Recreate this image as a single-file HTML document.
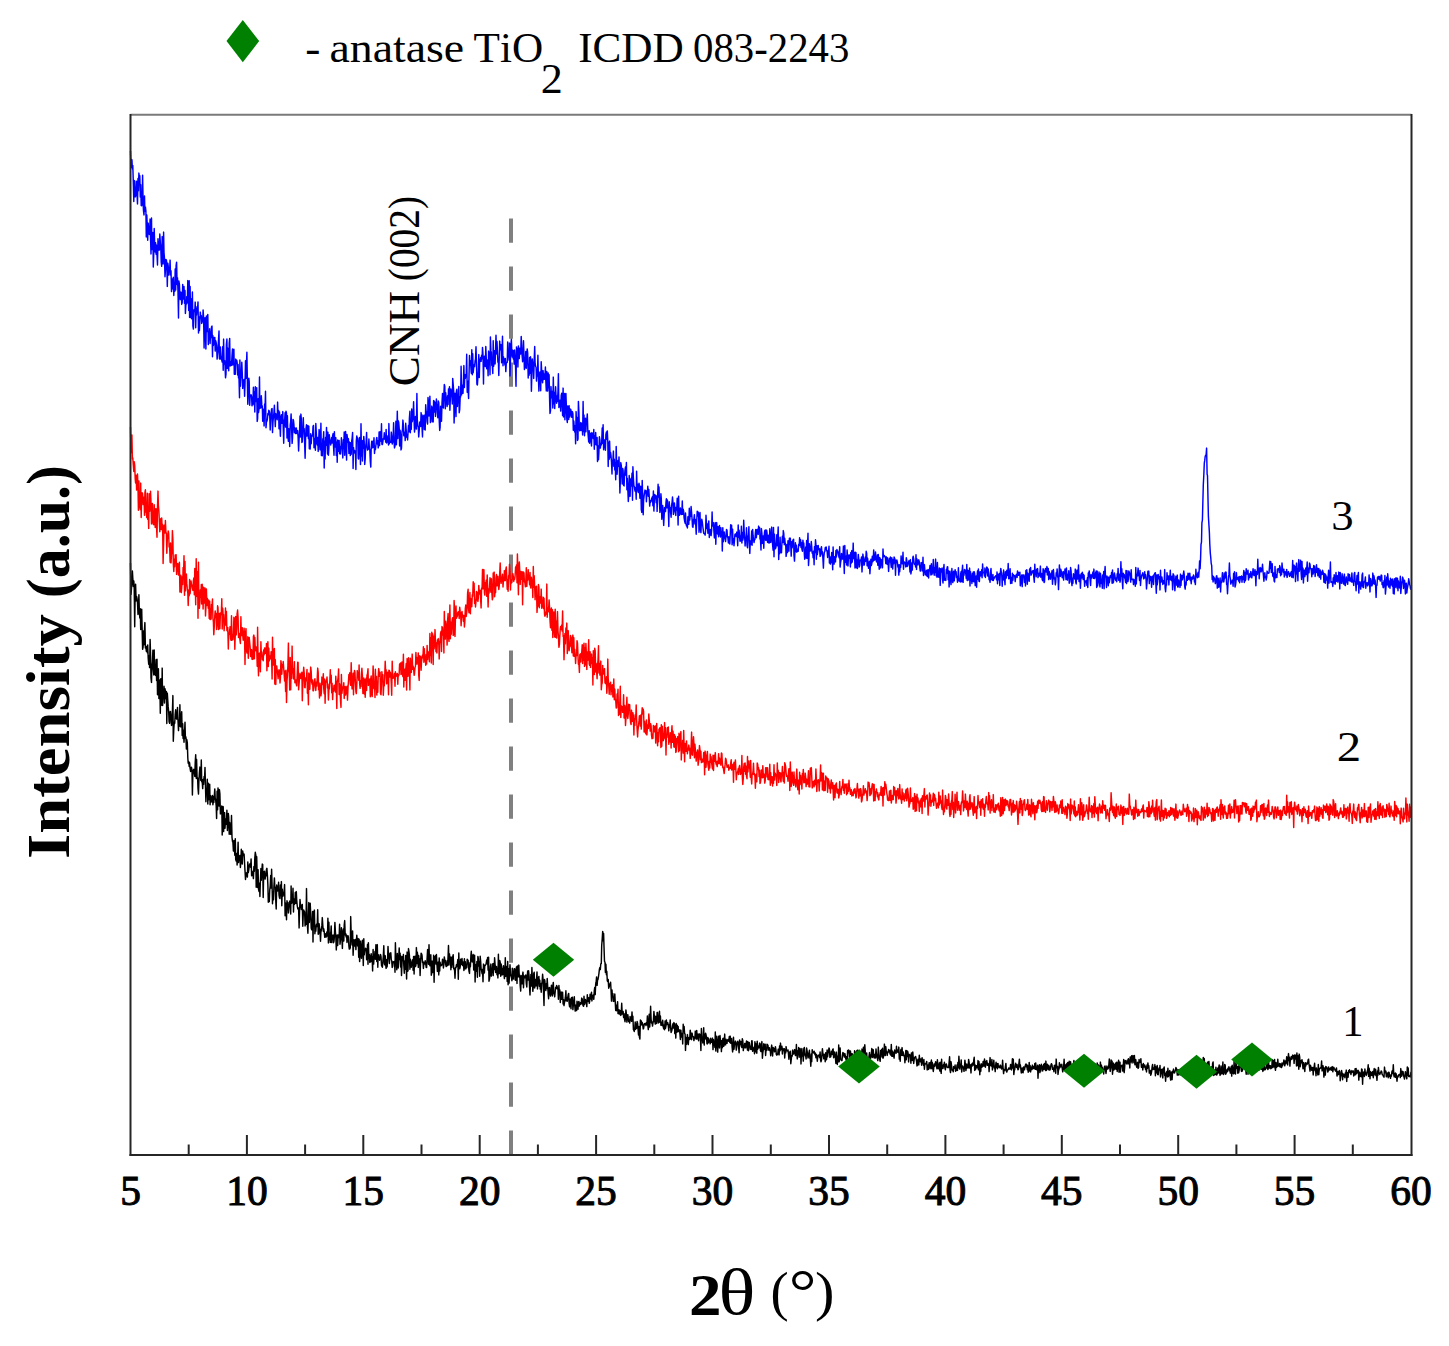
<!DOCTYPE html>
<html><head><meta charset="utf-8"><style>
html,body{margin:0;padding:0;background:#fff;}
body{width:1449px;height:1346px;overflow:hidden;}
svg{display:block;}
text{font-family:"Liberation Serif", serif;fill:#000;}
.tl{font-size:41.5px;font-weight:normal;text-anchor:middle;font-kerning:none;stroke:#000;stroke-width:1.0px;}
</style></head><body>
<svg width="1449" height="1346" viewBox="0 0 1449 1346">
<rect width="1449" height="1346" fill="#fff"/>
<polygon points="226.5,41.1 242.8,20.0 259.2,41.1 242.8,62.2" fill="#008000"/>
<line x1="511" y1="218.4" x2="511" y2="1155" stroke="#808080" stroke-width="4" stroke-dasharray="24.4 23.6"/>
<path d="M130.5,151.0 131.0,167.6 131.4,163.9 131.9,159.6 132.4,169.0 132.8,165.5 133.3,182.3 133.8,201.6 134.2,180.4 134.7,180.9 135.2,196.9 135.6,196.1 136.1,193.7 136.6,181.2 137.0,193.7 137.5,203.9 138.0,178.5 138.4,190.8 138.9,173.1 139.3,181.8 139.8,175.6 140.3,197.1 140.7,184.7 141.2,205.6 141.7,205.7 142.1,203.2 142.6,175.3 143.1,202.6 143.5,210.9 144.0,214.9 144.5,195.9 144.9,211.3 145.4,206.9 145.9,211.0 146.3,236.9 146.8,215.0 147.3,226.9 147.7,240.3 148.2,223.1 148.7,230.2 149.1,234.0 149.6,234.5 150.1,219.1 150.5,236.6 151.0,253.9 151.5,218.0 151.9,249.6 152.4,241.2 152.9,232.5 153.3,267.0 153.8,252.3 154.2,228.4 154.7,245.2 155.2,252.0 155.6,242.7 156.1,254.2 156.6,245.1 157.0,254.8 157.5,265.0 158.0,238.7 158.4,250.2 158.9,242.3 159.4,250.1 159.8,234.0 160.3,242.1 160.8,247.5 161.2,262.1 161.7,266.3 162.2,236.6 162.6,244.6 163.1,263.9 163.6,232.1 164.0,252.6 164.5,258.5 165.0,276.7 165.4,270.9 165.9,259.5 166.4,260.2 166.8,263.0 167.3,286.4 167.8,263.2 168.2,265.9 168.7,275.1 169.1,270.3 169.6,270.4 170.1,260.1 170.5,274.9 171.0,270.6 171.5,291.6 171.9,286.3 172.4,279.0 172.9,288.7 173.3,277.3 173.8,295.5 174.3,283.3 174.7,291.4 175.2,269.1 175.7,290.1 176.1,265.7 176.6,262.2 177.1,284.4 177.5,277.8 178.0,291.7 178.5,318.1 178.9,281.0 179.4,284.3 179.9,295.3 180.3,299.6 180.8,292.1 181.3,292.5 181.7,304.4 182.2,302.8 182.7,284.5 183.1,297.0 183.6,299.1 184.0,286.5 184.5,303.3 185.0,290.4 185.4,313.4 185.9,304.6 186.4,304.1 186.8,296.5 187.3,302.9 187.8,280.6 188.2,291.7 188.7,310.4 189.2,280.7 189.6,317.4 190.1,286.5 190.6,317.4 191.0,298.6 191.5,318.8 192.0,311.5 192.4,291.9 192.9,326.2 193.4,329.0 193.8,311.4 194.3,309.4 194.8,311.4 195.2,302.1 195.7,327.7 196.2,308.5 196.6,315.0 197.1,306.6 197.6,309.2 198.0,301.9 198.5,333.0 198.9,316.6 199.4,330.6 199.9,319.8 200.3,312.1 200.8,317.4 201.3,315.6 201.7,323.4 202.2,319.8 202.7,321.7 203.1,309.9 203.6,317.7 204.1,348.1 204.5,321.3 205.0,317.8 205.5,335.4 205.9,349.1 206.4,316.0 206.9,331.6 207.3,327.3 207.8,314.5 208.3,344.6 208.7,336.2 209.2,337.9 209.7,328.7 210.1,343.5 210.6,332.4 211.1,337.6 211.5,326.8 212.0,326.1 212.5,356.7 212.9,335.6 213.4,345.5 213.8,342.1 214.3,337.7 214.8,337.4 215.2,351.1 215.7,340.6 216.2,342.8 216.6,345.3 217.1,359.1 217.6,353.8 218.0,350.7 218.5,340.1 219.0,331.0 219.4,358.5 219.9,359.2 220.4,346.9 220.8,355.5 221.3,359.0 221.8,360.3 222.2,362.0 222.7,346.8 223.2,370.2 223.6,339.1 224.1,364.1 224.6,360.5 225.0,365.6 225.5,377.8 226.0,374.0 226.4,344.5 226.9,339.0 227.4,368.4 227.8,348.1 228.3,360.3 228.7,370.7 229.2,343.1 229.7,338.4 230.1,366.1 230.6,364.3 231.1,361.6 231.5,365.4 232.0,355.8 232.5,349.0 232.9,364.9 233.4,356.3 233.9,349.3 234.3,374.2 234.8,368.4 235.3,374.3 235.7,359.1 236.2,363.5 236.7,360.2 237.1,362.1 237.6,374.9 238.1,364.5 238.5,377.9 239.0,378.3 239.5,397.7 239.9,360.0 240.4,386.2 240.9,375.9 241.3,377.5 241.8,362.2 242.3,374.1 242.7,388.4 243.2,380.1 243.6,382.7 244.1,379.4 244.6,396.3 245.0,384.1 245.5,360.8 246.0,378.4 246.4,365.1 246.9,352.3 247.4,382.7 247.8,404.2 248.3,390.8 248.8,378.2 249.2,381.6 249.7,405.3 250.2,395.4 250.6,395.0 251.1,394.8 251.6,396.6 252.0,405.8 252.5,403.6 253.0,400.4 253.4,387.2 253.9,404.7 254.4,392.1 254.8,412.0 255.3,386.8 255.8,399.6 256.2,401.6 256.7,387.8 257.2,421.4 257.6,419.0 258.1,398.7 258.5,412.6 259.0,408.8 259.5,377.0 259.9,408.4 260.4,405.6 260.9,407.7 261.3,395.7 261.8,404.9 262.3,406.3 262.7,421.3 263.2,412.5 263.7,409.2 264.1,425.9 264.6,403.9 265.1,406.1 265.5,391.2 266.0,427.7 266.5,421.5 266.9,421.4 267.4,419.1 267.9,413.4 268.3,414.9 268.8,410.3 269.3,411.1 269.7,414.2 270.2,430.0 270.7,420.2 271.1,414.0 271.6,408.8 272.1,408.6 272.5,432.6 273.0,421.3 273.5,417.0 273.9,412.9 274.4,405.2 274.8,416.4 275.3,426.6 275.8,413.6 276.2,415.6 276.7,415.9 277.2,419.7 277.6,402.1 278.1,416.6 278.6,410.4 279.0,428.8 279.5,411.9 280.0,426.2 280.4,436.3 280.9,417.5 281.4,414.8 281.8,423.3 282.3,421.6 282.8,411.6 283.2,426.9 283.7,443.3 284.2,420.1 284.6,421.0 285.1,412.7 285.6,427.1 286.0,411.3 286.5,413.1 287.0,437.9 287.4,415.8 287.9,436.5 288.4,441.3 288.8,428.7 289.3,432.0 289.7,446.6 290.2,425.0 290.7,421.3 291.1,413.9 291.6,428.5 292.1,443.4 292.5,438.4 293.0,419.4 293.5,420.6 293.9,424.4 294.4,432.8 294.9,428.0 295.3,432.5 295.8,433.6 296.3,427.9 296.7,430.7 297.2,433.5 297.7,430.8 298.1,437.0 298.6,451.0 299.1,438.4 299.5,433.3 300.0,416.1 300.5,437.1 300.9,414.1 301.4,419.7 301.9,442.6 302.3,441.4 302.8,433.1 303.3,417.8 303.7,431.4 304.2,428.6 304.6,441.9 305.1,458.3 305.6,438.2 306.0,428.4 306.5,424.8 307.0,436.1 307.4,435.1 307.9,425.6 308.4,438.5 308.8,426.1 309.3,448.8 309.8,448.6 310.2,449.0 310.7,433.7 311.2,443.8 311.6,437.6 312.1,435.2 312.6,435.9 313.0,426.6 313.5,425.4 314.0,447.8 314.4,438.2 314.9,442.4 315.4,450.3 315.8,423.4 316.3,432.9 316.8,442.6 317.2,444.9 317.7,437.4 318.2,451.4 318.6,443.5 319.1,429.5 319.5,432.4 320.0,449.8 320.5,446.5 320.9,423.3 321.4,455.6 321.9,448.3 322.3,455.8 322.8,438.8 323.3,439.9 323.7,431.8 324.2,468.1 324.7,441.5 325.1,459.1 325.6,437.2 326.1,445.4 326.5,427.4 327.0,440.3 327.5,454.0 327.9,432.1 328.4,455.2 328.9,448.1 329.3,434.7 329.8,440.2 330.3,440.8 330.7,445.0 331.2,440.3 331.7,437.6 332.1,443.0 332.6,436.0 333.1,433.6 333.5,446.0 334.0,455.3 334.4,431.8 334.9,447.0 335.4,440.7 335.8,437.6 336.3,455.6 336.8,442.3 337.2,462.2 337.7,439.9 338.2,451.4 338.6,445.5 339.1,440.4 339.6,453.7 340.0,446.5 340.5,454.0 341.0,447.7 341.4,437.7 341.9,447.4 342.4,449.0 342.8,457.9 343.3,439.8 343.8,448.4 344.2,432.0 344.7,455.3 345.2,438.5 345.6,431.5 346.1,448.6 346.6,460.1 347.0,434.5 347.5,438.8 348.0,442.3 348.4,438.6 348.9,453.4 349.3,441.9 349.8,442.8 350.3,455.6 350.7,442.7 351.2,454.3 351.7,440.8 352.1,438.5 352.6,432.5 353.1,468.6 353.5,447.4 354.0,453.0 354.5,450.4 354.9,452.4 355.4,451.4 355.9,469.5 356.3,440.9 356.8,435.9 357.3,441.2 357.7,438.0 358.2,458.3 358.7,459.0 359.1,441.7 359.6,437.5 360.1,447.6 360.5,464.5 361.0,423.7 361.5,456.1 361.9,440.6 362.4,461.1 362.9,440.6 363.3,448.2 363.8,436.4 364.2,441.5 364.7,464.4 365.2,458.9 365.6,447.1 366.1,442.5 366.6,432.5 367.0,446.8 367.5,450.1 368.0,449.4 368.4,449.1 368.9,439.0 369.4,449.0 369.8,449.1 370.3,461.7 370.8,467.1 371.2,447.6 371.7,441.3 372.2,447.9 372.6,442.5 373.1,441.0 373.6,447.4 374.0,437.7 374.5,453.4 375.0,446.4 375.4,449.6 375.9,445.3 376.4,439.8 376.8,437.4 377.3,443.9 377.8,440.7 378.2,447.9 378.7,445.3 379.1,432.0 379.6,445.5 380.1,431.7 380.5,438.4 381.0,441.2 381.5,423.8 381.9,444.3 382.4,444.6 382.9,441.4 383.3,438.5 383.8,438.7 384.3,432.7 384.7,439.2 385.2,436.2 385.7,442.1 386.1,429.4 386.6,443.0 387.1,441.8 387.5,438.9 388.0,435.8 388.5,445.0 388.9,423.6 389.4,443.7 389.9,441.4 390.3,441.5 390.8,442.3 391.3,432.1 391.7,435.7 392.2,444.0 392.7,441.8 393.1,439.4 393.6,422.8 394.1,442.1 394.5,447.9 395.0,446.1 395.4,438.5 395.9,421.2 396.4,444.8 396.8,434.1 397.3,411.2 397.8,438.6 398.2,420.6 398.7,422.2 399.2,428.2 399.6,446.1 400.1,430.2 400.6,436.1 401.0,449.9 401.5,448.2 402.0,431.8 402.4,430.2 402.9,420.1 403.4,425.3 403.8,435.8 404.3,435.3 404.8,432.3 405.2,440.6 405.7,423.2 406.2,429.9 406.6,437.3 407.1,435.5 407.6,439.9 408.0,432.9 408.5,425.6 409.0,431.8 409.4,418.0 409.9,411.3 410.3,432.7 410.8,426.0 411.3,429.2 411.7,409.0 412.2,421.7 412.7,419.0 413.1,415.9 413.6,401.7 414.1,420.3 414.5,432.1 415.0,426.6 415.5,416.4 415.9,421.8 416.4,429.1 416.9,393.5 417.3,419.5 417.8,425.9 418.3,426.9 418.7,436.9 419.2,430.8 419.7,422.2 420.1,421.8 420.6,426.4 421.1,412.6 421.5,417.3 422.0,426.6 422.5,436.9 422.9,415.1 423.4,415.9 423.9,418.0 424.3,429.4 424.8,415.0 425.2,430.1 425.7,404.7 426.2,412.4 426.6,411.9 427.1,421.8 427.6,424.1 428.0,397.4 428.5,403.3 429.0,416.0 429.4,405.4 429.9,396.2 430.4,422.6 430.8,416.7 431.3,416.5 431.8,406.1 432.2,421.7 432.7,408.1 433.2,421.9 433.6,400.6 434.1,401.0 434.6,411.9 435.0,402.1 435.5,416.4 436.0,411.8 436.4,399.0 436.9,409.3 437.4,404.6 437.8,417.8 438.3,401.0 438.8,402.6 439.2,419.8 439.7,430.4 440.1,427.5 440.6,406.3 441.1,407.6 441.5,421.3 442.0,403.1 442.5,393.5 442.9,404.8 443.4,408.0 443.9,393.7 444.3,384.5 444.8,386.3 445.3,408.7 445.7,392.8 446.2,399.1 446.7,402.5 447.1,406.5 447.6,395.7 448.1,404.5 448.5,388.9 449.0,394.4 449.5,386.8 449.9,410.2 450.4,397.2 450.9,389.0 451.3,393.0 451.8,394.1 452.3,404.0 452.7,378.4 453.2,384.3 453.7,391.2 454.1,423.0 454.6,405.3 455.0,393.3 455.5,402.1 456.0,416.6 456.4,391.1 456.9,389.3 457.4,406.4 457.8,398.2 458.3,399.8 458.8,386.5 459.2,412.7 459.7,409.7 460.2,396.4 460.6,396.9 461.1,366.3 461.6,394.9 462.0,385.0 462.5,391.2 463.0,393.2 463.4,381.2 463.9,365.6 464.4,387.5 464.8,374.5 465.3,378.3 465.8,374.5 466.2,376.7 466.7,354.3 467.2,392.3 467.6,381.0 468.1,389.7 468.6,398.5 469.0,376.2 469.5,355.4 469.9,364.7 470.4,360.6 470.9,367.6 471.3,373.3 471.8,349.7 472.3,374.8 472.7,353.7 473.2,372.8 473.7,367.6 474.1,364.7 474.6,366.6 475.1,360.8 475.5,359.3 476.0,346.8 476.5,364.3 476.9,384.2 477.4,385.0 477.9,377.3 478.3,370.2 478.8,354.6 479.3,377.6 479.7,360.8 480.2,360.3 480.7,357.5 481.1,361.4 481.6,355.2 482.1,358.8 482.5,347.4 483.0,355.0 483.5,384.0 483.9,358.2 484.4,356.3 484.8,364.7 485.3,366.6 485.8,346.5 486.2,356.4 486.7,368.8 487.2,361.6 487.6,359.9 488.1,375.7 488.6,351.1 489.0,359.4 489.5,352.7 490.0,374.8 490.4,336.9 490.9,350.9 491.4,352.5 491.8,365.5 492.3,364.9 492.8,373.5 493.2,340.8 493.7,366.3 494.2,354.8 494.6,350.7 495.1,363.9 495.6,347.9 496.0,335.2 496.5,353.9 497.0,341.5 497.4,350.9 497.9,362.1 498.4,361.4 498.8,375.5 499.3,355.8 499.7,341.1 500.2,349.7 500.7,347.9 501.1,344.6 501.6,362.8 502.1,350.9 502.5,336.2 503.0,365.7 503.5,356.8 503.9,361.9 504.4,359.2 504.9,364.9 505.3,358.4 505.8,371.6 506.3,362.7 506.7,362.3 507.2,362.5 507.7,342.0 508.1,356.2 508.6,355.1 509.1,360.3 509.5,343.1 510.0,376.0 510.5,359.1 510.9,344.7 511.4,339.2 511.9,354.9 512.3,357.0 512.8,350.1 513.3,359.0 513.7,350.9 514.2,364.1 514.6,350.0 515.1,357.6 515.6,368.8 516.0,386.3 516.5,346.9 517.0,352.9 517.4,348.9 517.9,367.0 518.4,345.9 518.8,353.3 519.3,358.5 519.8,348.2 520.2,348.6 520.7,354.1 521.2,336.4 521.6,343.8 522.1,355.3 522.6,361.7 523.0,358.1 523.5,340.8 524.0,355.4 524.4,369.5 524.9,367.0 525.4,360.2 525.8,351.4 526.3,368.3 526.8,355.2 527.2,348.9 527.7,353.1 528.2,378.0 528.6,364.8 529.1,375.3 529.6,357.6 530.0,373.4 530.5,356.7 530.9,361.9 531.4,391.2 531.9,372.6 532.3,358.9 532.8,363.7 533.3,368.5 533.7,378.4 534.2,360.0 534.7,346.5 535.1,362.8 535.6,366.3 536.1,367.6 536.5,381.1 537.0,370.4 537.5,376.1 537.9,355.3 538.4,377.2 538.9,391.1 539.3,377.2 539.8,372.2 540.3,372.0 540.7,390.8 541.2,361.8 541.7,371.6 542.1,378.7 542.6,382.7 543.1,370.6 543.5,379.6 544.0,374.0 544.5,379.2 544.9,377.3 545.4,367.0 545.8,380.2 546.3,390.9 546.8,371.5 547.2,380.3 547.7,391.1 548.2,372.9 548.6,387.5 549.1,374.7 549.6,399.7 550.0,413.4 550.5,410.8 551.0,386.6 551.4,397.7 551.9,391.4 552.4,391.7 552.8,408.1 553.3,377.1 553.8,403.7 554.2,392.1 554.7,408.6 555.2,395.7 555.6,386.7 556.1,397.7 556.6,403.2 557.0,396.1 557.5,401.5 558.0,390.9 558.4,373.7 558.9,407.6 559.4,405.9 559.8,400.3 560.3,400.0 560.7,411.1 561.2,395.4 561.7,393.3 562.1,399.7 562.6,415.5 563.1,388.1 563.5,416.9 564.0,397.7 564.5,393.4 564.9,419.8 565.4,405.8 565.9,393.5 566.3,404.4 566.8,419.0 567.3,422.5 567.7,405.9 568.2,415.5 568.7,419.5 569.1,405.7 569.6,417.1 570.1,413.7 570.5,409.1 571.0,410.3 571.5,416.9 571.9,417.3 572.4,411.6 572.9,413.6 573.3,430.2 573.8,421.0 574.3,428.4 574.7,432.0 575.2,425.8 575.6,443.7 576.1,411.6 576.6,429.0 577.0,417.5 577.5,440.4 578.0,439.1 578.4,401.4 578.9,411.9 579.4,429.1 579.8,430.7 580.3,430.5 580.8,422.4 581.2,428.1 581.7,430.5 582.2,423.2 582.6,434.9 583.1,401.5 583.6,431.5 584.0,414.9 584.5,435.8 585.0,424.3 585.4,418.3 585.9,431.7 586.4,419.3 586.8,419.9 587.3,413.9 587.8,430.1 588.2,436.0 588.7,441.9 589.2,430.8 589.6,443.3 590.1,433.7 590.5,433.2 591.0,440.4 591.5,445.9 591.9,432.6 592.4,434.1 592.9,435.6 593.3,438.6 593.8,429.5 594.3,449.2 594.7,435.7 595.2,444.6 595.7,432.4 596.1,444.3 596.6,445.0 597.1,437.4 597.5,461.5 598.0,445.8 598.5,459.8 598.9,452.2 599.4,436.8 599.9,439.8 600.3,448.1 600.8,444.8 601.3,445.0 601.7,442.1 602.2,427.9 602.7,443.4 603.1,424.7 603.6,449.8 604.1,439.7 604.5,440.1 605.0,445.2 605.4,450.2 605.9,434.5 606.4,432.1 606.8,439.3 607.3,430.9 607.8,441.8 608.2,466.6 608.7,442.5 609.2,459.3 609.6,441.1 610.1,457.5 610.6,452.5 611.0,455.7 611.5,462.3 612.0,474.0 612.4,460.3 612.9,460.4 613.4,451.1 613.8,466.2 614.3,459.3 614.8,470.0 615.2,462.7 615.7,479.8 616.2,446.5 616.6,462.7 617.1,474.2 617.6,463.8 618.0,460.6 618.5,466.2 619.0,456.9 619.4,471.2 619.9,493.0 620.3,482.1 620.8,462.6 621.3,465.6 621.7,470.6 622.2,484.0 622.7,468.5 623.1,470.4 623.6,485.3 624.1,485.9 624.5,475.7 625.0,469.9 625.5,466.9 625.9,475.2 626.4,462.5 626.9,489.7 627.3,478.3 627.8,488.8 628.3,501.5 628.7,495.7 629.2,475.5 629.7,493.5 630.1,496.3 630.6,479.9 631.1,478.3 631.5,486.0 632.0,473.2 632.5,500.2 632.9,466.8 633.4,478.3 633.9,485.9 634.3,486.5 634.8,490.1 635.2,491.3 635.7,487.4 636.2,499.3 636.6,471.3 637.1,490.0 637.6,484.1 638.0,491.6 638.5,492.6 639.0,483.2 639.4,485.8 639.9,498.3 640.4,494.8 640.8,486.3 641.3,509.7 641.8,512.3 642.2,480.5 642.7,495.8 643.2,514.7 643.6,500.4 644.1,495.9 644.6,492.6 645.0,490.1 645.5,493.1 646.0,490.6 646.4,501.7 646.9,492.4 647.4,492.4 647.8,486.3 648.3,496.2 648.8,489.4 649.2,495.7 649.7,506.1 650.2,500.8 650.6,502.2 651.1,501.3 651.5,499.1 652.0,497.8 652.5,496.6 652.9,505.7 653.4,490.9 653.9,511.1 654.3,500.6 654.8,494.5 655.3,496.9 655.7,495.7 656.2,502.8 656.7,496.0 657.1,511.4 657.6,496.1 658.1,484.3 658.5,497.1 659.0,487.0 659.5,503.3 659.9,512.4 660.4,509.4 660.9,493.7 661.3,498.6 661.8,519.3 662.3,507.8 662.7,505.5 663.2,514.1 663.7,525.4 664.1,516.4 664.6,507.4 665.1,509.3 665.5,511.6 666.0,502.0 666.4,498.7 666.9,507.7 667.4,500.0 667.8,507.2 668.3,508.7 668.8,526.5 669.2,501.7 669.7,507.6 670.2,507.5 670.6,512.4 671.1,517.3 671.6,505.5 672.0,503.2 672.5,497.0 673.0,502.8 673.4,514.4 673.9,510.8 674.4,502.9 674.8,508.1 675.3,511.5 675.8,515.4 676.2,507.2 676.7,510.1 677.2,498.3 677.6,503.7 678.1,525.1 678.6,496.3 679.0,510.7 679.5,515.2 680.0,510.9 680.4,507.9 680.9,513.8 681.3,514.5 681.8,514.2 682.3,500.9 682.7,514.2 683.2,509.1 683.7,511.7 684.1,517.8 684.6,521.1 685.1,523.2 685.5,513.0 686.0,523.8 686.5,525.9 686.9,525.8 687.4,527.9 687.9,516.7 688.3,516.7 688.8,524.3 689.3,508.3 689.7,520.1 690.2,514.9 690.7,516.3 691.1,506.5 691.6,512.9 692.1,519.5 692.5,526.4 693.0,527.3 693.5,519.7 693.9,519.1 694.4,514.7 694.9,523.9 695.3,519.4 695.8,525.7 696.2,534.2 696.7,521.5 697.2,511.2 697.6,516.0 698.1,511.9 698.6,514.0 699.0,532.2 699.5,524.7 700.0,512.4 700.4,528.1 700.9,532.6 701.4,521.3 701.8,519.3 702.3,521.9 702.8,526.5 703.2,529.3 703.7,533.3 704.2,533.7 704.6,533.7 705.1,535.1 705.6,530.4 706.0,515.3 706.5,525.3 707.0,528.6 707.4,524.0 707.9,533.2 708.4,524.6 708.8,520.9 709.3,537.5 709.8,532.3 710.2,529.4 710.7,534.5 711.1,535.6 711.6,530.9 712.1,511.9 712.5,524.4 713.0,526.1 713.5,522.7 713.9,531.0 714.4,537.9 714.9,526.7 715.3,522.6 715.8,544.2 716.3,527.6 716.7,522.6 717.2,532.6 717.7,534.0 718.1,526.6 718.6,536.7 719.1,528.3 719.5,525.5 720.0,533.0 720.5,537.0 720.9,527.8 721.4,534.3 721.9,531.6 722.3,551.1 722.8,527.8 723.3,541.7 723.7,532.4 724.2,532.0 724.7,537.7 725.1,539.0 725.6,541.5 726.0,535.5 726.5,529.5 727.0,530.1 727.4,537.0 727.9,537.6 728.4,543.0 728.8,536.7 729.3,541.0 729.8,544.0 730.2,535.3 730.7,524.8 731.2,526.9 731.6,525.3 732.1,544.8 732.6,529.3 733.0,542.6 733.5,538.6 734.0,545.8 734.4,541.4 734.9,534.5 735.4,533.9 735.8,535.8 736.3,536.5 736.8,532.1 737.2,535.3 737.7,545.7 738.2,525.0 738.6,537.4 739.1,530.2 739.6,537.1 740.0,541.2 740.5,535.7 740.9,540.9 741.4,526.3 741.9,543.0 742.3,532.5 742.8,540.1 743.3,537.4 743.7,520.3 744.2,531.7 744.7,537.7 745.1,546.0 745.6,538.2 746.1,538.1 746.5,527.8 747.0,545.4 747.5,547.7 747.9,536.8 748.4,535.3 748.9,526.7 749.3,542.2 749.8,553.4 750.3,541.2 750.7,544.6 751.2,540.2 751.7,530.9 752.1,545.2 752.6,529.4 753.1,535.7 753.5,538.8 754.0,542.5 754.5,539.7 754.9,539.6 755.4,532.6 755.8,529.4 756.3,537.7 756.8,533.0 757.2,529.4 757.7,529.7 758.2,534.4 758.6,526.1 759.1,529.3 759.6,527.6 760.0,538.7 760.5,540.1 761.0,550.0 761.4,528.6 761.9,533.6 762.4,543.4 762.8,536.5 763.3,535.9 763.8,548.3 764.2,535.9 764.7,530.9 765.2,530.0 765.6,540.2 766.1,540.2 766.6,530.1 767.0,532.6 767.5,542.1 768.0,542.5 768.4,535.2 768.9,543.0 769.4,542.9 769.8,528.7 770.3,537.8 770.7,542.4 771.2,536.5 771.7,527.1 772.1,538.6 772.6,545.0 773.1,550.2 773.5,527.4 774.0,556.7 774.5,534.2 774.9,547.0 775.4,548.8 775.9,547.4 776.3,542.5 776.8,534.7 777.3,545.7 777.7,537.7 778.2,527.0 778.7,559.5 779.1,546.8 779.6,553.7 780.1,537.3 780.5,551.8 781.0,552.7 781.5,552.7 781.9,543.3 782.4,536.3 782.9,542.6 783.3,530.6 783.8,533.7 784.3,544.7 784.7,538.3 785.2,543.5 785.7,544.0 786.1,556.4 786.6,552.7 787.0,544.8 787.5,552.5 788.0,540.7 788.4,543.5 788.9,551.1 789.4,538.3 789.8,544.3 790.3,538.1 790.8,546.9 791.2,556.1 791.7,541.8 792.2,547.8 792.6,541.2 793.1,539.7 793.6,539.3 794.0,555.5 794.5,561.1 795.0,549.9 795.4,542.8 795.9,551.4 796.4,545.3 796.8,552.2 797.3,549.2 797.8,549.3 798.2,551.3 798.7,544.3 799.2,545.5 799.6,537.7 800.1,545.4 800.6,539.7 801.0,547.4 801.5,542.6 801.9,549.0 802.4,551.2 802.9,540.2 803.3,543.9 803.8,543.2 804.3,553.4 804.7,559.2 805.2,554.2 805.7,547.1 806.1,558.0 806.6,540.4 807.1,558.4 807.5,545.7 808.0,533.2 808.5,565.5 808.9,559.2 809.4,543.8 809.9,551.1 810.3,548.9 810.8,550.8 811.3,541.5 811.7,546.4 812.2,553.3 812.7,551.9 813.1,557.8 813.6,551.3 814.1,564.8 814.5,546.8 815.0,552.6 815.5,539.8 815.9,543.8 816.4,559.2 816.8,545.8 817.3,554.6 817.8,551.2 818.2,545.4 818.7,549.6 819.2,548.7 819.6,549.0 820.1,556.4 820.6,555.8 821.0,548.7 821.5,546.8 822.0,553.9 822.4,551.7 822.9,558.4 823.4,568.1 823.8,557.5 824.3,552.4 824.8,551.7 825.2,547.7 825.7,547.5 826.2,547.0 826.6,550.7 827.1,550.6 827.6,557.5 828.0,550.9 828.5,552.1 829.0,546.2 829.4,563.1 829.9,556.5 830.4,564.1 830.8,558.3 831.3,562.5 831.7,552.4 832.2,558.1 832.7,569.8 833.1,546.9 833.6,561.0 834.1,564.1 834.5,556.7 835.0,558.8 835.5,561.9 835.9,550.6 836.4,557.0 836.9,549.5 837.3,550.7 837.8,551.1 838.3,554.0 838.7,555.8 839.2,557.7 839.7,546.7 840.1,567.1 840.6,562.3 841.1,559.8 841.5,553.5 842.0,555.2 842.5,559.1 842.9,558.4 843.4,546.1 843.9,560.6 844.3,573.6 844.8,545.4 845.3,562.4 845.7,558.8 846.2,556.1 846.6,565.0 847.1,549.9 847.6,558.0 848.0,565.9 848.5,556.1 849.0,554.9 849.4,558.2 849.9,555.0 850.4,566.9 850.8,552.5 851.3,563.1 851.8,550.6 852.2,562.1 852.7,557.7 853.2,543.1 853.6,558.5 854.1,552.3 854.6,556.1 855.0,568.0 855.5,552.3 856.0,552.8 856.4,567.7 856.9,560.0 857.4,568.5 857.8,561.4 858.3,554.4 858.8,559.3 859.2,567.1 859.7,565.5 860.2,560.1 860.6,560.5 861.1,559.6 861.5,557.0 862.0,571.9 862.5,560.7 862.9,554.1 863.4,558.1 863.9,565.2 864.3,564.8 864.8,560.2 865.3,557.1 865.7,561.2 866.2,551.3 866.7,553.5 867.1,565.8 867.6,558.3 868.1,563.4 868.5,568.3 869.0,565.0 869.5,561.3 869.9,573.7 870.4,565.2 870.9,559.2 871.3,565.6 871.8,563.7 872.3,556.3 872.7,561.8 873.2,560.4 873.7,549.9 874.1,560.4 874.6,559.8 875.1,558.9 875.5,551.9 876.0,559.4 876.4,561.3 876.9,562.1 877.4,554.9 877.8,565.2 878.3,554.5 878.8,560.3 879.2,569.2 879.7,557.6 880.2,558.7 880.6,567.9 881.1,559.5 881.6,560.0 882.0,563.0 882.5,567.8 883.0,549.0 883.4,557.0 883.9,556.0 884.4,555.5 884.8,556.9 885.3,557.0 885.8,563.6 886.2,556.7 886.7,562.6 887.2,564.2 887.6,557.7 888.1,562.7 888.6,571.4 889.0,563.9 889.5,558.4 890.0,561.8 890.4,557.0 890.9,563.9 891.3,567.3 891.8,557.7 892.3,561.3 892.7,569.0 893.2,559.8 893.7,563.8 894.1,557.0 894.6,558.2 895.1,560.0 895.5,575.2 896.0,560.8 896.5,560.2 896.9,560.1 897.4,562.4 897.9,567.1 898.3,564.6 898.8,575.1 899.3,564.8 899.7,571.8 900.2,565.3 900.7,567.2 901.1,555.9 901.6,563.3 902.1,563.7 902.5,562.8 903.0,552.2 903.5,569.2 903.9,562.2 904.4,562.0 904.9,563.1 905.3,563.3 905.8,566.9 906.3,557.7 906.7,559.7 907.2,566.5 907.6,565.8 908.1,563.0 908.6,561.9 909.0,560.6 909.5,565.0 910.0,571.9 910.4,559.6 910.9,573.9 911.4,570.3 911.8,563.1 912.3,570.1 912.8,557.7 913.2,556.3 913.7,558.8 914.2,563.8 914.6,564.4 915.1,563.5 915.6,567.0 916.0,554.8 916.5,569.4 917.0,559.0 917.4,563.3 917.9,564.8 918.4,560.8 918.8,559.8 919.3,561.9 919.8,567.5 920.2,571.0 920.7,571.0 921.2,562.5 921.6,563.8 922.1,563.2 922.5,570.9 923.0,557.3 923.5,575.5 923.9,566.1 924.4,564.6 924.9,570.9 925.3,574.8 925.8,571.2 926.3,575.2 926.7,570.3 927.2,576.4 927.7,576.6 928.1,569.4 928.6,578.0 929.1,571.1 929.5,570.8 930.0,565.4 930.5,569.0 930.9,575.0 931.4,563.7 931.9,574.5 932.3,573.0 932.8,572.8 933.3,559.4 933.7,571.0 934.2,575.2 934.7,567.6 935.1,572.4 935.6,559.1 936.1,575.8 936.5,568.7 937.0,577.2 937.4,562.5 937.9,576.5 938.4,571.5 938.8,577.3 939.3,568.0 939.8,569.8 940.2,585.4 940.7,568.8 941.2,569.5 941.6,571.9 942.1,568.0 942.6,580.0 943.0,583.0 943.5,569.9 944.0,564.5 944.4,580.2 944.9,580.0 945.4,578.5 945.8,580.4 946.3,569.5 946.8,573.4 947.2,566.9 947.7,566.8 948.2,579.8 948.6,570.9 949.1,586.9 949.6,575.1 950.0,571.3 950.5,579.2 951.0,584.6 951.4,577.6 951.9,568.5 952.3,577.2 952.8,582.6 953.3,572.7 953.7,571.2 954.2,580.9 954.7,576.3 955.1,569.7 955.6,573.7 956.1,571.7 956.5,577.4 957.0,576.5 957.5,582.2 957.9,579.9 958.4,567.8 958.9,578.4 959.3,581.1 959.8,578.8 960.3,582.0 960.7,573.6 961.2,571.5 961.7,581.7 962.1,571.1 962.6,565.3 963.1,582.4 963.5,573.1 964.0,575.3 964.5,569.4 964.9,569.8 965.4,570.6 965.9,574.8 966.3,578.6 966.8,564.4 967.2,580.6 967.7,570.2 968.2,570.8 968.6,580.0 969.1,575.9 969.6,568.1 970.0,586.0 970.5,571.6 971.0,577.4 971.4,577.1 971.9,583.5 972.4,573.5 972.8,581.2 973.3,571.9 973.8,581.7 974.2,571.7 974.7,573.7 975.2,585.6 975.6,577.2 976.1,576.1 976.6,587.3 977.0,577.3 977.5,571.0 978.0,579.2 978.4,569.0 978.9,581.1 979.4,581.5 979.8,572.0 980.3,571.7 980.8,575.9 981.2,575.0 981.7,569.7 982.1,577.8 982.6,564.0 983.1,572.4 983.5,572.5 984.0,573.1 984.5,576.1 984.9,568.0 985.4,577.5 985.9,573.4 986.3,570.8 986.8,567.0 987.3,567.9 987.7,576.0 988.2,569.0 988.7,574.4 989.1,579.6 989.6,579.5 990.1,582.3 990.5,572.6 991.0,568.5 991.5,579.6 991.9,575.9 992.4,580.2 992.9,574.4 993.3,580.6 993.8,578.9 994.3,578.2 994.7,577.1 995.2,576.6 995.7,575.8 996.1,575.8 996.6,579.8 997.0,572.0 997.5,583.8 998.0,574.2 998.4,579.9 998.9,574.4 999.4,573.6 999.8,585.5 1000.3,573.4 1000.8,568.4 1001.2,571.3 1001.7,573.4 1002.2,586.3 1002.6,576.2 1003.1,580.1 1003.6,570.0 1004.0,577.1 1004.5,578.8 1005.0,584.7 1005.4,571.8 1005.9,578.6 1006.4,577.0 1006.8,570.2 1007.3,575.4 1007.8,574.2 1008.2,563.5 1008.7,578.8 1009.2,578.5 1009.6,573.4 1010.1,568.8 1010.6,583.5 1011.0,577.2 1011.5,581.2 1011.9,583.2 1012.4,573.2 1012.9,580.2 1013.3,574.7 1013.8,575.6 1014.3,575.5 1014.7,575.9 1015.2,581.6 1015.7,576.4 1016.1,575.0 1016.6,574.3 1017.1,577.4 1017.5,571.0 1018.0,573.0 1018.5,575.3 1018.9,572.6 1019.4,574.9 1019.9,572.3 1020.3,585.8 1020.8,582.3 1021.3,577.7 1021.7,575.0 1022.2,586.6 1022.7,576.9 1023.1,574.7 1023.6,576.7 1024.1,576.7 1024.5,582.4 1025.0,574.9 1025.5,585.9 1025.9,570.4 1026.4,578.5 1026.8,569.7 1027.3,584.3 1027.8,573.1 1028.2,574.5 1028.7,579.5 1029.2,581.2 1029.6,568.9 1030.1,572.8 1030.6,567.4 1031.0,575.3 1031.5,574.0 1032.0,572.7 1032.4,570.9 1032.9,572.4 1033.4,570.5 1033.8,577.1 1034.3,582.2 1034.8,564.3 1035.2,573.6 1035.7,572.0 1036.2,576.7 1036.6,569.2 1037.1,573.3 1037.6,568.6 1038.0,577.6 1038.5,574.6 1039.0,573.2 1039.4,576.0 1039.9,572.9 1040.4,566.1 1040.8,577.3 1041.3,575.8 1041.8,573.5 1042.2,579.4 1042.7,580.7 1043.1,568.8 1043.6,570.4 1044.1,582.5 1044.5,581.9 1045.0,570.7 1045.5,568.5 1045.9,571.3 1046.4,572.1 1046.9,566.5 1047.3,574.9 1047.8,568.2 1048.3,568.6 1048.7,579.6 1049.2,571.4 1049.7,574.6 1050.1,578.2 1050.6,579.2 1051.1,573.3 1051.5,575.3 1052.0,570.8 1052.5,584.2 1052.9,578.6 1053.4,569.5 1053.9,575.3 1054.3,579.0 1054.8,577.8 1055.3,584.8 1055.7,582.5 1056.2,572.7 1056.7,575.0 1057.1,568.9 1057.6,576.9 1058.0,576.4 1058.5,589.6 1059.0,576.2 1059.4,564.9 1059.9,572.3 1060.4,576.4 1060.8,569.3 1061.3,571.4 1061.8,574.0 1062.2,577.7 1062.7,575.1 1063.2,571.4 1063.6,580.1 1064.1,573.3 1064.6,573.5 1065.0,569.0 1065.5,572.1 1066.0,579.6 1066.4,567.9 1066.9,575.9 1067.4,580.1 1067.8,574.4 1068.3,577.7 1068.8,570.7 1069.2,583.3 1069.7,582.2 1070.2,577.8 1070.6,567.5 1071.1,571.2 1071.6,581.7 1072.0,585.6 1072.5,578.3 1072.9,583.2 1073.4,573.7 1073.9,575.9 1074.3,576.9 1074.8,579.1 1075.3,569.1 1075.7,581.9 1076.2,583.9 1076.7,571.2 1077.1,570.1 1077.6,579.0 1078.1,573.8 1078.5,565.0 1079.0,581.5 1079.5,578.1 1079.9,574.9 1080.4,588.3 1080.9,578.1 1081.3,573.6 1081.8,578.0 1082.3,572.2 1082.7,573.6 1083.2,579.6 1083.7,574.8 1084.1,575.4 1084.6,586.3 1085.1,582.2 1085.5,581.9 1086.0,580.6 1086.5,580.4 1086.9,585.4 1087.4,577.8 1087.8,587.5 1088.3,573.1 1088.8,576.7 1089.2,570.9 1089.7,576.2 1090.2,580.7 1090.6,585.5 1091.1,574.6 1091.6,578.0 1092.0,576.1 1092.5,574.2 1093.0,571.9 1093.4,578.3 1093.9,569.1 1094.4,578.6 1094.8,578.1 1095.3,574.6 1095.8,572.8 1096.2,570.9 1096.7,587.6 1097.2,571.1 1097.6,586.0 1098.1,581.1 1098.6,576.1 1099.0,572.0 1099.5,583.4 1100.0,586.9 1100.4,573.2 1100.9,576.5 1101.4,583.4 1101.8,579.7 1102.3,588.3 1102.7,575.1 1103.2,580.8 1103.7,571.5 1104.1,588.7 1104.6,574.1 1105.1,566.5 1105.5,577.1 1106.0,577.0 1106.5,587.5 1106.9,575.9 1107.4,577.5 1107.9,580.6 1108.3,585.7 1108.8,577.1 1109.3,582.7 1109.7,580.0 1110.2,575.8 1110.7,577.6 1111.1,577.3 1111.6,572.4 1112.1,583.3 1112.5,569.9 1113.0,583.0 1113.5,581.9 1113.9,576.4 1114.4,572.9 1114.9,575.6 1115.3,579.2 1115.8,580.5 1116.3,578.1 1116.7,581.7 1117.2,573.7 1117.6,577.7 1118.1,568.4 1118.6,580.3 1119.0,577.1 1119.5,574.2 1120.0,582.2 1120.4,579.8 1120.9,561.7 1121.4,576.3 1121.8,568.6 1122.3,581.5 1122.8,588.7 1123.2,573.2 1123.7,576.2 1124.2,574.5 1124.6,577.6 1125.1,579.0 1125.6,582.3 1126.0,570.5 1126.5,583.6 1127.0,570.8 1127.4,577.0 1127.9,581.6 1128.4,579.4 1128.8,571.0 1129.3,572.3 1129.8,573.7 1130.2,575.9 1130.7,582.1 1131.2,569.7 1131.6,578.8 1132.1,579.6 1132.5,579.5 1133.0,579.1 1133.5,584.6 1133.9,579.4 1134.4,581.4 1134.9,579.9 1135.3,586.3 1135.8,567.5 1136.3,583.9 1136.7,576.1 1137.2,576.1 1137.7,572.6 1138.1,568.1 1138.6,575.8 1139.1,574.3 1139.5,580.5 1140.0,570.5 1140.5,585.5 1140.9,579.6 1141.4,577.0 1141.9,574.8 1142.3,574.5 1142.8,572.8 1143.3,575.9 1143.7,578.8 1144.2,578.0 1144.7,571.7 1145.1,577.7 1145.6,574.6 1146.1,580.0 1146.5,588.9 1147.0,582.6 1147.4,577.9 1147.9,571.3 1148.4,572.4 1148.8,571.1 1149.3,583.6 1149.8,576.0 1150.2,580.3 1150.7,576.8 1151.2,580.5 1151.6,587.2 1152.1,576.5 1152.6,578.3 1153.0,575.9 1153.5,584.5 1154.0,574.7 1154.4,574.2 1154.9,572.9 1155.4,572.8 1155.8,582.4 1156.3,593.2 1156.8,574.9 1157.2,584.9 1157.7,581.3 1158.2,574.4 1158.6,578.6 1159.1,578.8 1159.6,576.5 1160.0,589.9 1160.5,570.2 1161.0,582.0 1161.4,581.7 1161.9,577.0 1162.4,580.8 1162.8,584.5 1163.3,580.8 1163.7,582.1 1164.2,583.5 1164.7,569.6 1165.1,587.6 1165.6,591.7 1166.1,585.0 1166.5,585.2 1167.0,572.8 1167.5,579.4 1167.9,575.8 1168.4,577.0 1168.9,584.9 1169.3,575.9 1169.8,579.3 1170.3,570.2 1170.7,579.2 1171.2,580.5 1171.7,576.4 1172.1,576.3 1172.6,589.7 1173.1,573.8 1173.5,574.6 1174.0,575.8 1174.5,586.1 1174.9,590.7 1175.4,581.6 1175.9,576.2 1176.3,577.6 1176.8,585.2 1177.3,575.1 1177.7,587.1 1178.2,586.9 1178.6,580.0 1179.1,582.9 1179.6,583.3 1180.0,587.4 1180.5,574.1 1181.0,585.4 1181.4,577.4 1181.9,575.4 1182.4,579.8 1182.8,578.1 1183.3,574.1 1183.8,571.0 1184.2,574.3 1184.7,586.5 1185.2,589.1 1185.6,582.3 1186.1,585.0 1186.6,576.3 1187.0,578.5 1187.5,580.3 1188.0,573.3 1188.4,573.7 1188.9,579.2 1189.4,577.0 1189.8,573.2 1190.3,580.6 1190.8,577.2 1191.2,583.7 1191.7,578.4 1192.2,576.9 1192.6,579.0 1193.1,577.5 1193.5,574.9 1194.0,576.2 1194.5,582.0 1194.9,581.4 1195.4,584.6 1195.9,569.2 1196.3,575.7 1196.8,575.2 1197.3,577.7 1197.7,573.8 1198.2,572.3 1198.7,577.1 1199.1,571.4 1199.6,560.9 1200.1,568.7 1200.5,560.6 1201.0,544.5 1201.5,542.1 1201.9,522.9 1202.4,520.2 1202.9,500.5 1203.3,484.8 1203.8,475.2 1204.3,463.2 1204.7,460.7 1205.2,456.4 1205.7,455.1 1206.1,455.1 1206.6,448.1 1207.1,474.2 1207.5,475.4 1208.0,498.9 1208.4,516.4 1208.9,524.6 1209.4,532.9 1209.8,544.2 1210.3,553.1 1210.8,558.0 1211.2,563.3 1211.7,565.7 1212.2,579.5 1212.6,575.5 1213.1,581.9 1213.6,576.7 1214.0,578.9 1214.5,578.1 1215.0,581.6 1215.4,583.6 1215.9,580.7 1216.4,576.1 1216.8,575.7 1217.3,588.1 1217.8,578.3 1218.2,578.3 1218.7,587.3 1219.2,585.4 1219.6,582.6 1220.1,577.9 1220.6,591.9 1221.0,582.0 1221.5,582.7 1222.0,579.0 1222.4,572.7 1222.9,573.0 1223.3,581.9 1223.8,581.8 1224.3,578.5 1224.7,573.7 1225.2,572.3 1225.7,577.9 1226.1,572.1 1226.6,584.1 1227.1,585.3 1227.5,593.8 1228.0,583.9 1228.5,576.3 1228.9,574.9 1229.4,563.0 1229.9,576.2 1230.3,578.3 1230.8,584.1 1231.3,582.2 1231.7,582.1 1232.2,580.1 1232.7,582.3 1233.1,586.3 1233.6,573.5 1234.1,576.5 1234.5,571.8 1235.0,587.0 1235.5,585.3 1235.9,582.5 1236.4,572.6 1236.9,579.5 1237.3,577.4 1237.8,579.0 1238.2,577.5 1238.7,581.1 1239.2,576.4 1239.6,582.7 1240.1,579.6 1240.6,576.8 1241.0,577.7 1241.5,576.0 1242.0,582.3 1242.4,576.8 1242.9,579.6 1243.4,576.1 1243.8,570.4 1244.3,582.5 1244.8,572.3 1245.2,580.9 1245.7,579.4 1246.2,568.7 1246.6,572.1 1247.1,574.1 1247.6,572.4 1248.0,570.3 1248.5,579.9 1249.0,574.7 1249.4,577.7 1249.9,573.4 1250.4,576.9 1250.8,571.4 1251.3,574.9 1251.8,577.8 1252.2,574.8 1252.7,572.1 1253.1,568.7 1253.6,574.9 1254.1,575.6 1254.5,572.3 1255.0,569.6 1255.5,576.0 1255.9,585.7 1256.4,571.4 1256.9,574.4 1257.3,574.4 1257.8,559.3 1258.3,572.8 1258.7,568.3 1259.2,578.8 1259.7,570.3 1260.1,567.4 1260.6,570.1 1261.1,571.9 1261.5,568.2 1262.0,570.8 1262.5,564.3 1262.9,570.1 1263.4,575.2 1263.9,581.3 1264.3,574.9 1264.8,572.8 1265.3,577.5 1265.7,576.7 1266.2,580.0 1266.7,577.1 1267.1,571.1 1267.6,573.0 1268.0,572.7 1268.5,573.3 1269.0,572.9 1269.4,567.9 1269.9,561.3 1270.4,568.6 1270.8,561.8 1271.3,572.5 1271.8,572.2 1272.2,563.7 1272.7,575.8 1273.2,576.7 1273.6,572.9 1274.1,580.9 1274.6,581.9 1275.0,566.4 1275.5,577.8 1276.0,574.9 1276.4,574.8 1276.9,577.5 1277.4,569.1 1277.8,569.8 1278.3,568.7 1278.8,569.1 1279.2,572.5 1279.7,565.6 1280.2,567.6 1280.6,575.7 1281.1,572.4 1281.6,574.6 1282.0,563.0 1282.5,568.5 1282.9,569.6 1283.4,572.5 1283.9,569.3 1284.3,576.9 1284.8,571.8 1285.3,572.1 1285.7,572.0 1286.2,575.4 1286.7,569.4 1287.1,577.4 1287.6,573.9 1288.1,572.3 1288.5,571.6 1289.0,574.0 1289.5,576.4 1289.9,576.0 1290.4,573.0 1290.9,575.5 1291.3,571.6 1291.8,577.3 1292.3,570.9 1292.7,560.5 1293.2,577.8 1293.7,571.5 1294.1,565.1 1294.6,570.0 1295.1,566.5 1295.5,581.6 1296.0,573.5 1296.5,563.1 1296.9,573.8 1297.4,569.0 1297.9,580.7 1298.3,565.7 1298.8,559.6 1299.2,571.3 1299.7,569.2 1300.2,568.9 1300.6,560.2 1301.1,573.2 1301.6,579.5 1302.0,561.4 1302.5,576.9 1303.0,568.1 1303.4,582.9 1303.9,573.2 1304.4,570.1 1304.8,576.6 1305.3,573.7 1305.8,568.0 1306.2,574.6 1306.7,568.4 1307.2,562.0 1307.6,581.3 1308.1,569.2 1308.6,567.9 1309.0,572.7 1309.5,563.1 1310.0,564.2 1310.4,568.5 1310.9,568.4 1311.4,571.4 1311.8,576.7 1312.3,568.6 1312.8,573.5 1313.2,574.0 1313.7,565.5 1314.1,572.2 1314.6,566.3 1315.1,576.5 1315.5,573.5 1316.0,571.5 1316.5,564.8 1316.9,572.3 1317.4,568.1 1317.9,575.7 1318.3,571.7 1318.8,568.4 1319.3,577.3 1319.7,576.5 1320.2,570.0 1320.7,579.1 1321.1,571.9 1321.6,572.0 1322.1,574.4 1322.5,570.2 1323.0,571.9 1323.5,573.5 1323.9,582.2 1324.4,582.2 1324.9,573.6 1325.3,583.2 1325.8,575.0 1326.3,577.3 1326.7,580.0 1327.2,577.2 1327.7,588.1 1328.1,577.4 1328.6,570.3 1329.0,583.1 1329.5,574.6 1330.0,575.3 1330.4,562.0 1330.9,582.3 1331.4,581.5 1331.8,581.6 1332.3,582.7 1332.8,586.5 1333.2,577.9 1333.7,583.0 1334.2,574.8 1334.6,576.9 1335.1,584.2 1335.6,581.0 1336.0,572.5 1336.5,581.2 1337.0,578.7 1337.4,575.7 1337.9,582.1 1338.4,577.9 1338.8,572.1 1339.3,574.4 1339.8,588.9 1340.2,572.4 1340.7,581.1 1341.2,583.1 1341.6,583.2 1342.1,573.8 1342.6,578.4 1343.0,580.7 1343.5,584.0 1343.9,576.8 1344.4,574.1 1344.9,585.0 1345.3,585.6 1345.8,581.9 1346.3,576.9 1346.7,582.0 1347.2,580.5 1347.7,584.2 1348.1,573.7 1348.6,580.6 1349.1,579.2 1349.5,574.4 1350.0,581.1 1350.5,580.2 1350.9,577.9 1351.4,582.0 1351.9,572.9 1352.3,579.7 1352.8,582.2 1353.3,581.4 1353.7,585.4 1354.2,574.0 1354.7,572.4 1355.1,581.2 1355.6,582.3 1356.1,590.7 1356.5,583.1 1357.0,575.6 1357.5,584.1 1357.9,575.8 1358.4,572.5 1358.8,593.1 1359.3,581.6 1359.8,583.6 1360.2,582.8 1360.7,589.1 1361.2,581.4 1361.6,586.1 1362.1,574.9 1362.6,573.1 1363.0,587.3 1363.5,587.6 1364.0,582.8 1364.4,581.4 1364.9,581.2 1365.4,576.9 1365.8,588.2 1366.3,583.8 1366.8,583.1 1367.2,582.5 1367.7,585.9 1368.2,583.2 1368.6,584.5 1369.1,574.9 1369.6,583.4 1370.0,591.9 1370.5,578.4 1371.0,580.4 1371.4,585.5 1371.9,585.9 1372.4,584.3 1372.8,573.1 1373.3,583.8 1373.7,575.4 1374.2,577.2 1374.7,584.2 1375.1,580.0 1375.6,585.6 1376.1,597.4 1376.5,585.5 1377.0,585.3 1377.5,577.3 1377.9,578.6 1378.4,576.5 1378.9,579.2 1379.3,576.5 1379.8,578.7 1380.3,581.0 1380.7,577.1 1381.2,575.1 1381.7,575.4 1382.1,584.6 1382.6,582.6 1383.1,587.5 1383.5,587.7 1384.0,580.8 1384.5,585.9 1384.9,575.4 1385.4,594.1 1385.9,588.7 1386.3,581.7 1386.8,577.1 1387.3,584.9 1387.7,573.7 1388.2,579.2 1388.6,587.0 1389.1,583.7 1389.6,580.9 1390.0,588.2 1390.5,578.3 1391.0,585.0 1391.4,581.2 1391.9,579.5 1392.4,586.2 1392.8,579.0 1393.3,593.5 1393.8,581.2 1394.2,594.1 1394.7,578.8 1395.2,587.4 1395.6,578.4 1396.1,577.8 1396.6,585.4 1397.0,588.0 1397.5,578.3 1398.0,590.7 1398.4,580.9 1398.9,585.6 1399.4,586.9 1399.8,588.1 1400.3,576.2 1400.8,593.4 1401.2,588.2 1401.7,583.3 1402.2,580.4 1402.6,577.1 1403.1,578.8 1403.5,588.5 1404.0,584.1 1404.5,580.2 1404.9,583.3 1405.4,593.9 1405.9,584.5 1406.3,583.3 1406.8,593.0 1407.3,588.7 1407.7,586.7 1408.2,583.5 1408.7,578.8 1409.1,580.8 1409.6,584.4 1410.1,585.7 1410.5,588.7 1411.0,589.7" fill="none" stroke="#0000ff" stroke-width="1.45" stroke-linejoin="round"/>
<path d="M130.5,427.0 131.0,452.7 131.4,443.0 131.9,435.0 132.4,458.9 132.8,458.0 133.3,464.9 133.8,471.5 134.2,461.7 134.7,465.0 135.2,478.7 135.6,482.9 136.1,475.2 136.6,490.1 137.0,482.5 137.5,474.0 138.0,487.5 138.4,510.3 138.9,481.0 139.3,503.8 139.8,507.2 140.3,509.6 140.7,483.1 141.2,517.6 141.7,496.1 142.1,492.7 142.6,493.9 143.1,504.6 143.5,499.0 144.0,497.2 144.5,515.3 144.9,492.7 145.4,489.8 145.9,512.3 146.3,512.2 146.8,517.6 147.3,493.2 147.7,519.2 148.2,512.9 148.7,528.4 149.1,493.7 149.6,511.4 150.1,506.1 150.5,491.3 151.0,502.0 151.5,523.9 151.9,505.9 152.4,503.4 152.9,522.4 153.3,524.3 153.8,524.8 154.2,504.8 154.7,514.0 155.2,527.5 155.6,508.9 156.1,508.7 156.6,527.9 157.0,537.2 157.5,506.8 158.0,491.1 158.4,505.2 158.9,511.2 159.4,522.2 159.8,531.8 160.3,523.9 160.8,518.6 161.2,529.5 161.7,517.9 162.2,529.7 162.6,524.2 163.1,563.5 163.6,543.4 164.0,525.8 164.5,525.3 165.0,533.0 165.4,520.5 165.9,532.2 166.4,533.4 166.8,553.2 167.3,539.5 167.8,536.4 168.2,531.0 168.7,533.6 169.1,547.0 169.6,546.1 170.1,562.2 170.5,543.0 171.0,562.9 171.5,554.6 171.9,552.5 172.4,530.6 172.9,539.5 173.3,563.2 173.8,571.5 174.3,559.2 174.7,566.7 175.2,554.9 175.7,556.6 176.1,554.7 176.6,574.4 177.1,568.7 177.5,563.5 178.0,563.8 178.5,575.1 178.9,573.8 179.4,562.2 179.9,592.0 180.3,577.0 180.8,575.3 181.3,592.6 181.7,588.3 182.2,576.7 182.7,584.5 183.1,567.4 183.6,573.0 184.0,555.8 184.5,595.3 185.0,561.5 185.4,590.9 185.9,574.9 186.4,574.1 186.8,583.4 187.3,588.9 187.8,592.8 188.2,605.5 188.7,590.0 189.2,595.7 189.6,579.4 190.1,593.8 190.6,587.7 191.0,580.9 191.5,584.9 192.0,585.3 192.4,588.1 192.9,590.4 193.4,580.5 193.8,578.1 194.3,594.7 194.8,568.4 195.2,580.7 195.7,604.8 196.2,558.8 196.6,581.1 197.1,596.6 197.6,571.6 198.0,618.2 198.5,562.3 198.9,606.4 199.4,608.2 199.9,601.7 200.3,590.0 200.8,597.2 201.3,584.6 201.7,604.1 202.2,584.2 202.7,594.4 203.1,609.1 203.6,587.3 204.1,596.4 204.5,603.1 205.0,587.9 205.5,615.9 205.9,608.0 206.4,589.0 206.9,605.5 207.3,598.3 207.8,600.0 208.3,608.2 208.7,600.3 209.2,618.6 209.7,601.2 210.1,619.6 210.6,609.1 211.1,619.1 211.5,604.6 212.0,605.4 212.5,599.0 212.9,617.8 213.4,622.0 213.8,634.8 214.3,626.3 214.8,615.6 215.2,611.0 215.7,617.6 216.2,613.5 216.6,629.5 217.1,624.3 217.6,605.8 218.0,607.7 218.5,629.6 219.0,618.7 219.4,613.4 219.9,628.8 220.4,612.9 220.8,614.8 221.3,613.7 221.8,598.7 222.2,629.1 222.7,608.2 223.2,615.7 223.6,614.6 224.1,630.7 224.6,623.2 225.0,624.9 225.5,608.0 226.0,625.3 226.4,611.5 226.9,630.4 227.4,631.2 227.8,627.4 228.3,649.0 228.7,633.4 229.2,634.3 229.7,629.8 230.1,626.6 230.6,638.7 231.1,640.3 231.5,615.7 232.0,640.2 232.5,634.8 232.9,639.6 233.4,634.7 233.9,617.3 234.3,618.3 234.8,649.2 235.3,633.3 235.7,616.4 236.2,634.9 236.7,628.3 237.1,613.8 237.6,610.0 238.1,617.7 238.5,637.5 239.0,634.9 239.5,633.5 239.9,639.6 240.4,643.5 240.9,616.8 241.3,635.7 241.8,631.1 242.3,627.7 242.7,635.3 243.2,640.3 243.6,639.5 244.1,628.2 244.6,638.7 245.0,664.6 245.5,634.3 246.0,628.6 246.4,649.1 246.9,653.0 247.4,652.2 247.8,636.8 248.3,658.3 248.8,640.7 249.2,637.4 249.7,642.9 250.2,648.1 250.6,656.5 251.1,655.8 251.6,649.6 252.0,659.3 252.5,651.0 253.0,659.4 253.4,636.6 253.9,635.1 254.4,658.8 254.8,637.4 255.3,648.5 255.8,650.7 256.2,647.0 256.7,647.6 257.2,666.2 257.6,627.3 258.1,661.5 258.5,675.8 259.0,653.3 259.5,653.0 259.9,660.6 260.4,671.7 260.9,641.7 261.3,654.6 261.8,652.0 262.3,659.5 262.7,655.7 263.2,660.8 263.7,650.1 264.1,654.9 264.6,647.9 265.1,648.1 265.5,653.4 266.0,653.5 266.5,643.4 266.9,670.8 267.4,654.0 267.9,641.7 268.3,666.5 268.8,648.2 269.3,660.9 269.7,655.8 270.2,658.9 270.7,658.6 271.1,651.8 271.6,658.6 272.1,679.0 272.5,637.2 273.0,660.7 273.5,665.0 273.9,650.9 274.4,648.4 274.8,684.0 275.3,659.6 275.8,684.5 276.2,669.8 276.7,665.9 277.2,670.5 277.6,672.7 278.1,678.8 278.6,672.0 279.0,669.8 279.5,670.7 280.0,683.0 280.4,678.3 280.9,660.8 281.4,664.7 281.8,674.3 282.3,664.8 282.8,667.3 283.2,661.5 283.7,668.4 284.2,675.2 284.6,680.9 285.1,671.1 285.6,691.5 286.0,670.2 286.5,702.6 287.0,680.9 287.4,675.9 287.9,666.1 288.4,643.1 288.8,669.5 289.3,672.8 289.7,690.0 290.2,657.4 290.7,689.8 291.1,668.5 291.6,678.2 292.1,646.1 292.5,672.8 293.0,668.4 293.5,678.9 293.9,673.5 294.4,661.7 294.9,682.7 295.3,680.6 295.8,680.0 296.3,684.4 296.7,685.7 297.2,675.0 297.7,662.2 298.1,662.4 298.6,689.7 299.1,683.8 299.5,678.2 300.0,673.3 300.5,678.2 300.9,678.5 301.4,675.4 301.9,672.2 302.3,700.8 302.8,682.0 303.3,674.0 303.7,667.3 304.2,673.0 304.6,687.2 305.1,687.7 305.6,678.1 306.0,680.8 306.5,677.3 307.0,669.5 307.4,693.2 307.9,684.1 308.4,704.8 308.8,673.1 309.3,679.2 309.8,689.3 310.2,678.3 310.7,667.1 311.2,671.4 311.6,681.8 312.1,684.2 312.6,679.9 313.0,690.8 313.5,690.7 314.0,684.2 314.4,681.4 314.9,678.8 315.4,686.8 315.8,690.5 316.3,682.2 316.8,686.1 317.2,678.7 317.7,668.1 318.2,672.3 318.6,689.7 319.1,686.7 319.5,698.0 320.0,683.1 320.5,691.1 320.9,695.8 321.4,692.7 321.9,677.1 322.3,681.4 322.8,684.5 323.3,673.8 323.7,688.2 324.2,693.7 324.7,679.1 325.1,703.2 325.6,681.1 326.1,682.0 326.5,681.6 327.0,677.0 327.5,687.9 327.9,684.0 328.4,700.0 328.9,689.6 329.3,688.9 329.8,681.5 330.3,669.8 330.7,682.7 331.2,675.2 331.7,692.7 332.1,683.1 332.6,699.6 333.1,690.5 333.5,691.4 334.0,685.5 334.4,685.2 334.9,689.5 335.4,692.1 335.8,676.2 336.3,687.8 336.8,708.6 337.2,682.1 337.7,680.5 338.2,676.3 338.6,668.9 339.1,694.6 339.6,683.6 340.0,685.9 340.5,701.0 341.0,707.4 341.4,674.4 341.9,693.3 342.4,689.1 342.8,686.9 343.3,687.7 343.8,682.8 344.2,698.5 344.7,689.0 345.2,686.4 345.6,695.1 346.1,691.7 346.6,687.5 347.0,686.2 347.5,700.1 348.0,688.0 348.4,682.1 348.9,674.6 349.3,679.6 349.8,672.7 350.3,683.9 350.7,685.3 351.2,662.8 351.7,682.9 352.1,688.9 352.6,684.2 353.1,673.3 353.5,694.8 354.0,675.7 354.5,670.5 354.9,671.9 355.4,682.2 355.9,691.8 356.3,693.6 356.8,684.3 357.3,670.6 357.7,675.8 358.2,673.4 358.7,680.3 359.1,664.9 359.6,683.1 360.1,688.4 360.5,680.7 361.0,686.6 361.5,673.2 361.9,668.2 362.4,676.2 362.9,693.5 363.3,692.4 363.8,678.0 364.2,694.1 364.7,679.4 365.2,697.2 365.6,687.3 366.1,678.3 366.6,690.4 367.0,675.3 367.5,673.7 368.0,668.8 368.4,685.4 368.9,682.4 369.4,682.2 369.8,679.0 370.3,696.8 370.8,678.8 371.2,675.9 371.7,694.9 372.2,696.5 372.6,686.0 373.1,665.9 373.6,676.9 374.0,688.5 374.5,682.8 375.0,697.5 375.4,669.3 375.9,689.0 376.4,676.4 376.8,695.1 377.3,681.6 377.8,692.2 378.2,676.0 378.7,668.6 379.1,671.5 379.6,676.3 380.1,672.2 380.5,693.6 381.0,694.8 381.5,684.5 381.9,671.8 382.4,680.4 382.9,674.8 383.3,695.2 383.8,684.1 384.3,685.7 384.7,677.0 385.2,661.3 385.7,673.1 386.1,669.6 386.6,683.8 387.1,681.0 387.5,672.2 388.0,676.0 388.5,694.7 388.9,670.3 389.4,670.5 389.9,677.0 390.3,672.3 390.8,674.8 391.3,683.8 391.7,695.2 392.2,661.3 392.7,677.9 393.1,678.2 393.6,676.7 394.1,675.4 394.5,673.6 395.0,686.2 395.4,671.8 395.9,674.8 396.4,675.7 396.8,676.4 397.3,673.4 397.8,684.3 398.2,674.4 398.7,675.8 399.2,673.4 399.6,664.0 400.1,665.3 400.6,662.9 401.0,674.5 401.5,665.5 402.0,661.9 402.4,674.0 402.9,676.5 403.4,654.3 403.8,687.0 404.3,670.9 404.8,669.3 405.2,680.2 405.7,670.3 406.2,663.6 406.6,690.0 407.1,658.6 407.6,667.6 408.0,676.3 408.5,657.7 409.0,666.7 409.4,671.0 409.9,689.9 410.3,658.2 410.8,666.0 411.3,672.4 411.7,666.6 412.2,654.1 412.7,669.2 413.1,666.0 413.6,668.9 414.1,675.2 414.5,673.7 415.0,667.6 415.5,666.3 415.9,652.4 416.4,661.2 416.9,664.1 417.3,657.8 417.8,662.1 418.3,653.0 418.7,675.0 419.2,680.4 419.7,655.8 420.1,662.9 420.6,656.5 421.1,670.3 421.5,662.0 422.0,658.2 422.5,654.9 422.9,657.8 423.4,646.7 423.9,662.3 424.3,648.8 424.8,660.4 425.2,656.3 425.7,665.2 426.2,654.4 426.6,664.1 427.1,645.4 427.6,659.6 428.0,651.5 428.5,655.2 429.0,653.8 429.4,661.7 429.9,633.5 430.4,655.4 430.8,637.9 431.3,663.0 431.8,632.3 432.2,640.8 432.7,633.9 433.2,664.6 433.6,636.3 434.1,648.9 434.6,642.1 435.0,629.6 435.5,642.8 436.0,651.6 436.4,643.0 436.9,653.0 437.4,640.0 437.8,642.9 438.3,638.6 438.8,644.8 439.2,658.9 439.7,643.7 440.1,641.5 440.6,633.2 441.1,631.3 441.5,651.6 442.0,626.6 442.5,627.8 442.9,634.9 443.4,631.1 443.9,652.9 444.3,611.4 444.8,636.5 445.3,639.1 445.7,621.2 446.2,625.0 446.7,634.5 447.1,645.1 447.6,620.4 448.1,613.5 448.5,636.9 449.0,641.4 449.5,623.2 449.9,604.9 450.4,638.7 450.9,622.5 451.3,634.3 451.8,622.7 452.3,619.0 452.7,617.8 453.2,635.4 453.7,634.6 454.1,600.5 454.6,611.3 455.0,636.4 455.5,615.7 456.0,605.9 456.4,618.3 456.9,616.7 457.4,616.3 457.8,612.3 458.3,613.4 458.8,611.5 459.2,618.5 459.7,607.2 460.2,611.7 460.6,612.6 461.1,625.7 461.6,616.4 462.0,611.4 462.5,617.0 463.0,615.3 463.4,621.3 463.9,615.4 464.4,627.0 464.8,622.3 465.3,608.8 465.8,604.9 466.2,616.5 466.7,612.7 467.2,606.5 467.6,593.0 468.1,589.3 468.6,609.2 469.0,612.7 469.5,612.5 469.9,592.5 470.4,613.8 470.9,598.6 471.3,606.8 471.8,606.6 472.3,594.7 472.7,596.2 473.2,581.8 473.7,592.1 474.1,583.2 474.6,603.6 475.1,599.6 475.5,607.0 476.0,601.3 476.5,591.4 476.9,600.1 477.4,592.6 477.9,601.4 478.3,598.2 478.8,585.4 479.3,594.1 479.7,594.1 480.2,590.2 480.7,600.8 481.1,607.9 481.6,588.0 482.1,587.6 482.5,569.4 483.0,588.9 483.5,585.8 483.9,569.6 484.4,592.4 484.8,595.1 485.3,582.7 485.8,585.9 486.2,580.3 486.7,596.3 487.2,575.0 487.6,586.1 488.1,607.1 488.6,589.3 489.0,593.1 489.5,587.3 490.0,577.7 490.4,588.2 490.9,592.2 491.4,578.8 491.8,591.4 492.3,599.7 492.8,597.9 493.2,573.1 493.7,578.4 494.2,572.1 494.6,596.7 495.1,592.1 495.6,592.6 496.0,577.5 496.5,574.5 497.0,585.7 497.4,585.6 497.9,576.3 498.4,585.2 498.8,589.5 499.3,585.3 499.7,573.2 500.2,562.9 500.7,579.7 501.1,583.3 501.6,579.0 502.1,577.1 502.5,574.3 503.0,587.0 503.5,579.6 503.9,580.9 504.4,570.6 504.9,573.6 505.3,580.6 505.8,569.6 506.3,567.0 506.7,575.4 507.2,589.3 507.7,579.8 508.1,591.3 508.6,576.3 509.1,574.5 509.5,564.2 510.0,571.5 510.5,589.9 510.9,579.5 511.4,583.0 511.9,582.5 512.3,575.7 512.8,573.6 513.3,576.4 513.7,581.3 514.2,579.1 514.6,579.2 515.1,575.8 515.6,567.1 516.0,571.5 516.5,565.0 517.0,582.8 517.4,553.9 517.9,571.0 518.4,594.8 518.8,569.4 519.3,561.9 519.8,572.1 520.2,584.4 520.7,571.5 521.2,579.3 521.6,575.3 522.1,571.6 522.6,604.7 523.0,577.0 523.5,572.0 524.0,573.1 524.4,581.8 524.9,582.8 525.4,586.8 525.8,581.6 526.3,567.8 526.8,586.5 527.2,579.4 527.7,580.2 528.2,569.8 528.6,578.7 529.1,577.9 529.6,584.8 530.0,572.4 530.5,586.8 530.9,588.0 531.4,577.2 531.9,582.3 532.3,580.7 532.8,597.5 533.3,566.5 533.7,587.2 534.2,575.7 534.7,587.5 535.1,599.8 535.6,586.9 536.1,594.5 536.5,586.2 537.0,612.4 537.5,603.6 537.9,606.2 538.4,584.4 538.9,587.1 539.3,607.8 539.8,596.8 540.3,596.9 540.7,603.0 541.2,589.1 541.7,608.3 542.1,602.1 542.6,606.9 543.1,597.1 543.5,608.6 544.0,598.1 544.5,614.0 544.9,616.2 545.4,615.0 545.8,612.1 546.3,613.9 546.8,584.1 547.2,617.2 547.7,607.8 548.2,611.9 548.6,609.2 549.1,599.9 549.6,608.4 550.0,620.1 550.5,627.8 551.0,609.9 551.4,608.0 551.9,630.3 552.4,609.7 552.8,637.5 553.3,619.7 553.8,612.0 554.2,629.8 554.7,637.0 555.2,609.2 555.6,637.2 556.1,621.2 556.6,638.1 557.0,621.8 557.5,611.6 558.0,631.3 558.4,635.9 558.9,647.3 559.4,644.7 559.8,636.1 560.3,628.3 560.7,626.5 561.2,629.3 561.7,625.1 562.1,631.0 562.6,611.0 563.1,636.6 563.5,635.4 564.0,659.8 564.5,644.1 564.9,633.6 565.4,643.8 565.9,628.0 566.3,634.2 566.8,623.1 567.3,653.5 567.7,646.2 568.2,630.6 568.7,641.1 569.1,650.7 569.6,647.0 570.1,646.3 570.5,635.5 571.0,637.9 571.5,644.9 571.9,652.8 572.4,637.4 572.9,635.1 573.3,656.1 573.8,637.6 574.3,656.3 574.7,649.1 575.2,655.3 575.6,663.5 576.1,654.4 576.6,655.6 577.0,640.7 577.5,643.2 578.0,655.8 578.4,664.3 578.9,663.5 579.4,672.4 579.8,654.7 580.3,654.1 580.8,661.9 581.2,653.4 581.7,653.1 582.2,644.7 582.6,663.6 583.1,645.4 583.6,660.2 584.0,643.2 584.5,666.4 585.0,647.7 585.4,665.1 585.9,643.5 586.4,654.4 586.8,669.4 587.3,651.9 587.8,660.2 588.2,655.8 588.7,639.7 589.2,663.7 589.6,665.3 590.1,651.8 590.5,667.4 591.0,655.5 591.5,654.1 591.9,663.6 592.4,657.8 592.9,685.1 593.3,650.8 593.8,672.0 594.3,674.6 594.7,648.3 595.2,651.0 595.7,672.1 596.1,663.1 596.6,671.4 597.1,678.8 597.5,665.8 598.0,660.2 598.5,645.8 598.9,672.9 599.4,663.3 599.9,675.1 600.3,675.0 600.8,661.1 601.3,689.7 601.7,684.5 602.2,683.1 602.7,665.5 603.1,673.1 603.6,672.5 604.1,674.3 604.5,668.6 605.0,683.1 605.4,681.9 605.9,683.8 606.4,676.7 606.8,693.3 607.3,684.2 607.8,659.1 608.2,678.5 608.7,684.4 609.2,694.2 609.6,683.8 610.1,685.1 610.6,682.3 611.0,694.7 611.5,685.7 612.0,685.2 612.4,684.8 612.9,696.9 613.4,688.2 613.8,679.0 614.3,699.8 614.8,689.1 615.2,699.1 615.7,700.0 616.2,708.0 616.6,707.4 617.1,694.1 617.6,698.3 618.0,689.3 618.5,715.5 619.0,705.5 619.4,714.3 619.9,700.3 620.3,686.2 620.8,717.4 621.3,705.8 621.7,706.8 622.2,706.8 622.7,712.4 623.1,712.1 623.6,694.8 624.1,718.1 624.5,705.1 625.0,706.3 625.5,725.5 625.9,719.3 626.4,709.3 626.9,697.2 627.3,714.8 627.8,718.5 628.3,713.7 628.7,704.2 629.2,708.3 629.7,704.7 630.1,717.2 630.6,722.5 631.1,724.5 631.5,710.1 632.0,718.4 632.5,721.4 632.9,712.8 633.4,716.1 633.9,735.1 634.3,719.5 634.8,725.4 635.2,714.8 635.7,719.0 636.2,704.9 636.6,719.0 637.1,729.2 637.6,736.9 638.0,729.8 638.5,725.8 639.0,720.9 639.4,715.8 639.9,719.6 640.4,726.1 640.8,715.0 641.3,729.1 641.8,713.9 642.2,707.7 642.7,714.1 643.2,709.1 643.6,711.7 644.1,732.0 644.6,721.5 645.0,725.1 645.5,732.9 646.0,733.9 646.4,720.0 646.9,734.9 647.4,727.6 647.8,724.7 648.3,728.5 648.8,714.0 649.2,719.4 649.7,725.1 650.2,731.1 650.6,723.7 651.1,725.9 651.5,734.9 652.0,738.7 652.5,734.0 652.9,738.2 653.4,725.4 653.9,726.6 654.3,731.8 654.8,727.3 655.3,726.0 655.7,743.1 656.2,729.1 656.7,723.5 657.1,735.1 657.6,745.8 658.1,732.6 658.5,741.8 659.0,729.2 659.5,729.0 659.9,727.7 660.4,732.1 660.9,747.5 661.3,724.8 661.8,746.3 662.3,726.3 662.7,732.4 663.2,740.8 663.7,739.4 664.1,737.0 664.6,722.6 665.1,738.0 665.5,727.7 666.0,755.1 666.4,734.3 666.9,737.5 667.4,727.7 667.8,732.9 668.3,727.0 668.8,744.3 669.2,735.2 669.7,741.7 670.2,732.7 670.6,734.4 671.1,748.0 671.6,731.5 672.0,725.7 672.5,742.3 673.0,731.2 673.4,736.7 673.9,747.0 674.4,734.5 674.8,747.3 675.3,736.2 675.8,752.4 676.2,751.5 676.7,738.7 677.2,740.9 677.6,736.7 678.1,744.5 678.6,751.7 679.0,733.2 679.5,750.6 680.0,734.6 680.4,738.1 680.9,731.6 681.3,759.9 681.8,745.3 682.3,746.8 682.7,740.4 683.2,753.1 683.7,730.5 684.1,746.0 684.6,761.7 685.1,743.4 685.5,746.4 686.0,751.3 686.5,740.9 686.9,747.0 687.4,753.8 687.9,748.6 688.3,750.0 688.8,745.1 689.3,749.9 689.7,748.3 690.2,758.4 690.7,753.6 691.1,747.1 691.6,732.1 692.1,754.5 692.5,755.2 693.0,743.9 693.5,736.7 693.9,743.0 694.4,757.7 694.9,744.3 695.3,748.8 695.8,753.9 696.2,761.1 696.7,752.9 697.2,752.7 697.6,750.0 698.1,765.2 698.6,761.7 699.0,754.1 699.5,745.6 700.0,750.1 700.4,759.8 700.9,751.3 701.4,762.6 701.8,759.3 702.3,759.2 702.8,762.0 703.2,761.3 703.7,752.5 704.2,756.4 704.6,774.8 705.1,751.1 705.6,756.5 706.0,767.2 706.5,759.1 707.0,754.8 707.4,751.4 707.9,764.1 708.4,767.5 708.8,770.2 709.3,761.2 709.8,768.1 710.2,754.1 710.7,762.4 711.1,756.8 711.6,762.7 712.1,766.7 712.5,768.9 713.0,755.2 713.5,770.5 713.9,758.9 714.4,755.3 714.9,761.2 715.3,752.6 715.8,762.6 716.3,764.7 716.7,761.5 717.2,766.6 717.7,761.0 718.1,763.2 718.6,753.7 719.1,763.7 719.5,757.9 720.0,760.7 720.5,763.2 720.9,765.2 721.4,753.0 721.9,753.7 722.3,762.3 722.8,767.6 723.3,767.0 723.7,770.7 724.2,773.5 724.7,768.2 725.1,764.9 725.6,758.3 726.0,759.0 726.5,762.3 727.0,767.3 727.4,767.1 727.9,765.8 728.4,764.9 728.8,770.2 729.3,767.5 729.8,768.3 730.2,768.5 730.7,762.9 731.2,759.8 731.6,770.0 732.1,769.7 732.6,765.5 733.0,764.3 733.5,782.3 734.0,762.2 734.4,765.9 734.9,769.2 735.4,759.9 735.8,768.4 736.3,779.7 736.8,774.0 737.2,772.1 737.7,771.9 738.2,768.8 738.6,774.5 739.1,767.2 739.6,765.5 740.0,769.1 740.5,774.5 740.9,770.8 741.4,773.2 741.9,755.4 742.3,776.8 742.8,784.4 743.3,777.9 743.7,767.0 744.2,763.6 744.7,771.2 745.1,762.9 745.6,774.3 746.1,766.1 746.5,776.0 747.0,778.7 747.5,756.5 747.9,771.9 748.4,765.4 748.9,760.9 749.3,766.2 749.8,768.9 750.3,777.2 750.7,760.5 751.2,777.5 751.7,783.9 752.1,774.7 752.6,774.4 753.1,770.8 753.5,763.3 754.0,774.6 754.5,773.7 754.9,776.1 755.4,788.2 755.8,776.2 756.3,774.3 756.8,781.8 757.2,762.9 757.7,764.3 758.2,769.4 758.6,767.7 759.1,776.6 759.6,770.1 760.0,783.6 760.5,782.2 761.0,777.4 761.4,769.9 761.9,776.5 762.4,777.8 762.8,765.7 763.3,775.0 763.8,777.4 764.2,774.2 764.7,783.1 765.2,780.9 765.6,767.7 766.1,773.9 766.6,767.8 767.0,777.0 767.5,767.7 768.0,779.4 768.4,776.0 768.9,779.8 769.4,772.7 769.8,764.3 770.3,785.2 770.7,772.7 771.2,782.8 771.7,776.8 772.1,778.4 772.6,786.0 773.1,776.4 773.5,783.3 774.0,764.7 774.5,780.0 774.9,772.9 775.4,773.7 775.9,774.7 776.3,776.9 776.8,785.4 777.3,762.9 777.7,775.2 778.2,770.3 778.7,782.5 779.1,772.4 779.6,778.1 780.1,772.7 780.5,779.6 781.0,781.9 781.5,772.9 781.9,775.8 782.4,766.5 782.9,777.6 783.3,781.2 783.8,772.3 784.3,783.1 784.7,762.7 785.2,764.2 785.7,767.2 786.1,773.1 786.6,776.4 787.0,775.9 787.5,776.1 788.0,781.2 788.4,773.6 788.9,768.7 789.4,768.9 789.8,790.4 790.3,762.0 790.8,776.0 791.2,786.5 791.7,780.4 792.2,772.1 792.6,777.5 793.1,783.1 793.6,785.3 794.0,772.0 794.5,782.7 795.0,779.5 795.4,785.0 795.9,786.9 796.4,776.0 796.8,769.1 797.3,780.9 797.8,789.7 798.2,782.9 798.7,780.1 799.2,794.0 799.6,772.2 800.1,784.6 800.6,775.4 801.0,779.4 801.5,779.7 801.9,788.9 802.4,773.4 802.9,776.1 803.3,769.4 803.8,782.7 804.3,776.8 804.7,782.5 805.2,773.1 805.7,777.7 806.1,786.6 806.6,779.1 807.1,784.2 807.5,783.7 808.0,778.2 808.5,770.7 808.9,786.8 809.4,781.8 809.9,787.0 810.3,768.2 810.8,770.6 811.3,767.6 811.7,775.7 812.2,788.0 812.7,785.1 813.1,781.5 813.6,782.7 814.1,786.8 814.5,780.3 815.0,784.9 815.5,783.4 815.9,769.0 816.4,780.5 816.8,791.5 817.3,780.7 817.8,782.5 818.2,779.7 818.7,780.6 819.2,790.9 819.6,782.3 820.1,777.8 820.6,764.9 821.0,780.9 821.5,772.4 822.0,773.4 822.4,789.9 822.9,789.5 823.4,773.3 823.8,790.8 824.3,788.5 824.8,780.9 825.2,790.5 825.7,776.0 826.2,778.8 826.6,777.5 827.1,779.7 827.6,792.2 828.0,778.6 828.5,779.9 829.0,781.3 829.4,788.6 829.9,785.4 830.4,793.0 830.8,783.4 831.3,780.0 831.7,785.1 832.2,788.6 832.7,782.7 833.1,790.4 833.6,800.0 834.1,785.3 834.5,789.4 835.0,797.6 835.5,785.4 835.9,784.3 836.4,783.0 836.9,792.3 837.3,793.1 837.8,789.1 838.3,790.3 838.7,797.9 839.2,795.4 839.7,781.4 840.1,790.1 840.6,790.8 841.1,794.6 841.5,788.8 842.0,786.3 842.5,787.4 842.9,779.4 843.4,790.2 843.9,786.7 844.3,793.2 844.8,784.1 845.3,787.8 845.7,784.5 846.2,784.0 846.6,794.8 847.1,787.7 847.6,793.3 848.0,783.8 848.5,791.2 849.0,780.3 849.4,787.8 849.9,787.7 850.4,794.3 850.8,791.9 851.3,789.8 851.8,796.0 852.2,792.1 852.7,794.2 853.2,795.6 853.6,790.6 854.1,789.2 854.6,793.0 855.0,788.6 855.5,793.5 856.0,797.9 856.4,796.4 856.9,788.9 857.4,783.5 857.8,791.0 858.3,790.6 858.8,798.1 859.2,789.1 859.7,790.2 860.2,795.9 860.6,788.6 861.1,790.6 861.5,801.9 862.0,800.6 862.5,795.4 862.9,793.3 863.4,785.8 863.9,795.1 864.3,792.1 864.8,793.1 865.3,788.7 865.7,791.8 866.2,790.8 866.7,793.8 867.1,800.6 867.6,794.2 868.1,782.1 868.5,786.2 869.0,782.6 869.5,787.4 869.9,795.6 870.4,794.6 870.9,788.7 871.3,793.9 871.8,787.8 872.3,783.8 872.7,784.0 873.2,787.3 873.7,801.0 874.1,784.5 874.6,800.0 875.1,800.5 875.5,791.5 876.0,792.4 876.4,789.0 876.9,792.6 877.4,796.7 877.8,792.8 878.3,798.8 878.8,799.9 879.2,794.9 879.7,794.9 880.2,792.6 880.6,795.1 881.1,786.4 881.6,795.5 882.0,794.3 882.5,788.0 883.0,806.0 883.4,787.4 883.9,788.1 884.4,794.9 884.8,781.8 885.3,788.6 885.8,784.3 886.2,787.7 886.7,792.6 887.2,795.4 887.6,800.1 888.1,798.3 888.6,800.6 889.0,797.1 889.5,790.9 890.0,800.3 890.4,790.9 890.9,790.3 891.3,803.0 891.8,798.8 892.3,795.5 892.7,798.8 893.2,799.6 893.7,786.5 894.1,794.1 894.6,787.8 895.1,795.6 895.5,791.0 896.0,803.1 896.5,798.2 896.9,790.5 897.4,795.3 897.9,788.4 898.3,795.8 898.8,798.9 899.3,797.4 899.7,784.6 900.2,794.1 900.7,799.1 901.1,798.0 901.6,803.2 902.1,788.9 902.5,799.6 903.0,792.8 903.5,797.9 903.9,799.3 904.4,801.0 904.9,793.7 905.3,798.3 905.8,790.5 906.3,789.2 906.7,800.8 907.2,797.3 907.6,788.3 908.1,792.9 908.6,798.1 909.0,807.1 909.5,804.3 910.0,802.9 910.4,788.0 910.9,797.9 911.4,801.4 911.8,801.0 912.3,801.2 912.8,797.6 913.2,809.3 913.7,807.7 914.2,798.7 914.6,793.6 915.1,811.4 915.6,796.3 916.0,806.6 916.5,810.8 917.0,794.3 917.4,801.5 917.9,797.9 918.4,803.0 918.8,801.9 919.3,811.4 919.8,803.6 920.2,800.2 920.7,806.8 921.2,798.8 921.6,798.3 922.1,813.5 922.5,795.8 923.0,797.8 923.5,801.0 923.9,794.7 924.4,788.6 924.9,807.0 925.3,796.4 925.8,797.9 926.3,798.9 926.7,795.5 927.2,795.0 927.7,802.2 928.1,815.1 928.6,805.6 929.1,805.8 929.5,792.9 930.0,801.5 930.5,794.9 930.9,806.2 931.4,800.5 931.9,802.1 932.3,801.4 932.8,798.6 933.3,793.3 933.7,805.4 934.2,794.3 934.7,795.5 935.1,800.6 935.6,798.3 936.1,803.9 936.5,808.3 937.0,804.0 937.4,803.8 937.9,802.8 938.4,807.7 938.8,792.3 939.3,805.0 939.8,797.6 940.2,796.0 940.7,803.1 941.2,800.9 941.6,806.5 942.1,809.5 942.6,790.1 943.0,802.9 943.5,814.5 944.0,808.4 944.4,811.7 944.9,804.1 945.4,795.4 945.8,797.2 946.3,807.7 946.8,809.1 947.2,799.6 947.7,802.3 948.2,805.3 948.6,794.0 949.1,801.9 949.6,813.1 950.0,816.4 950.5,803.4 951.0,814.4 951.4,801.2 951.9,799.6 952.3,791.6 952.8,809.6 953.3,802.2 953.7,817.5 954.2,806.2 954.7,805.5 955.1,794.3 955.6,813.0 956.1,802.5 956.5,803.7 957.0,792.2 957.5,809.9 957.9,810.3 958.4,801.4 958.9,805.3 959.3,807.1 959.8,810.3 960.3,805.5 960.7,814.6 961.2,803.7 961.7,801.7 962.1,802.5 962.6,790.9 963.1,800.7 963.5,810.9 964.0,806.8 964.5,800.7 964.9,807.3 965.4,794.1 965.9,803.9 966.3,808.4 966.8,809.4 967.2,801.3 967.7,810.7 968.2,816.1 968.6,803.3 969.1,809.8 969.6,797.0 970.0,794.8 970.5,809.1 971.0,805.9 971.4,806.8 971.9,802.5 972.4,804.1 972.8,810.2 973.3,815.2 973.8,804.5 974.2,796.6 974.7,812.8 975.2,809.1 975.6,809.5 976.1,806.7 976.6,818.6 977.0,806.1 977.5,808.6 978.0,795.5 978.4,802.5 978.9,801.9 979.4,805.6 979.8,807.6 980.3,801.6 980.8,815.3 981.2,799.8 981.7,803.2 982.1,807.0 982.6,798.8 983.1,808.9 983.5,809.2 984.0,804.1 984.5,816.2 984.9,806.2 985.4,807.3 985.9,800.4 986.3,796.5 986.8,802.3 987.3,804.0 987.7,803.2 988.2,809.9 988.7,792.6 989.1,799.5 989.6,795.7 990.1,813.1 990.5,802.6 991.0,802.9 991.5,799.7 991.9,810.6 992.4,803.5 992.9,806.9 993.3,794.6 993.8,812.1 994.3,807.9 994.7,808.7 995.2,812.5 995.7,804.7 996.1,804.9 996.6,809.7 997.0,808.2 997.5,804.6 998.0,806.2 998.4,803.2 998.9,809.9 999.4,811.1 999.8,806.1 1000.3,816.3 1000.8,797.7 1001.2,804.8 1001.7,815.4 1002.2,803.9 1002.6,797.5 1003.1,813.8 1003.6,809.2 1004.0,799.8 1004.5,810.5 1005.0,800.8 1005.4,799.1 1005.9,805.6 1006.4,803.8 1006.8,800.5 1007.3,804.5 1007.8,801.1 1008.2,806.8 1008.7,806.4 1009.2,810.6 1009.6,804.1 1010.1,799.4 1010.6,799.5 1011.0,805.3 1011.5,815.0 1011.9,811.3 1012.4,803.3 1012.9,811.9 1013.3,800.6 1013.8,812.3 1014.3,804.8 1014.7,811.0 1015.2,810.3 1015.7,805.5 1016.1,808.7 1016.6,801.3 1017.1,806.6 1017.5,812.9 1018.0,824.4 1018.5,810.9 1018.9,807.6 1019.4,801.7 1019.9,812.9 1020.3,798.4 1020.8,802.9 1021.3,809.2 1021.7,800.8 1022.2,815.5 1022.7,813.1 1023.1,804.2 1023.6,804.3 1024.1,800.2 1024.5,799.8 1025.0,809.6 1025.5,810.6 1025.9,809.1 1026.4,808.7 1026.8,804.3 1027.3,809.2 1027.8,799.4 1028.2,807.3 1028.7,815.1 1029.2,814.3 1029.6,804.8 1030.1,805.5 1030.6,814.6 1031.0,816.7 1031.5,799.3 1032.0,805.0 1032.4,808.5 1032.9,813.7 1033.4,802.8 1033.8,810.7 1034.3,805.7 1034.8,819.8 1035.2,809.5 1035.7,806.5 1036.2,805.5 1036.6,812.8 1037.1,810.8 1037.6,801.5 1038.0,808.4 1038.5,800.2 1039.0,803.3 1039.4,800.4 1039.9,800.3 1040.4,803.6 1040.8,802.1 1041.3,810.0 1041.8,811.5 1042.2,806.0 1042.7,801.4 1043.1,811.5 1043.6,796.6 1044.1,797.1 1044.5,811.1 1045.0,810.7 1045.5,812.4 1045.9,806.1 1046.4,800.7 1046.9,804.6 1047.3,810.3 1047.8,803.3 1048.3,803.7 1048.7,800.1 1049.2,801.3 1049.7,811.8 1050.1,809.8 1050.6,801.4 1051.1,801.9 1051.5,804.6 1052.0,810.4 1052.5,801.5 1052.9,806.7 1053.4,796.4 1053.9,801.1 1054.3,809.9 1054.8,812.4 1055.3,801.7 1055.7,803.7 1056.2,811.9 1056.7,805.8 1057.1,805.0 1057.6,810.6 1058.0,808.9 1058.5,813.7 1059.0,812.1 1059.4,805.0 1059.9,807.4 1060.4,807.7 1060.8,801.0 1061.3,803.0 1061.8,813.2 1062.2,799.8 1062.7,813.3 1063.2,809.7 1063.6,807.5 1064.1,811.0 1064.6,810.7 1065.0,814.6 1065.5,806.2 1066.0,807.1 1066.4,807.1 1066.9,818.2 1067.4,813.3 1067.8,803.6 1068.3,806.7 1068.8,804.8 1069.2,808.6 1069.7,809.7 1070.2,820.5 1070.6,799.1 1071.1,814.0 1071.6,810.9 1072.0,805.0 1072.5,807.9 1072.9,806.2 1073.4,809.0 1073.9,814.0 1074.3,800.9 1074.8,815.7 1075.3,806.9 1075.7,816.7 1076.2,811.1 1076.7,815.4 1077.1,811.9 1077.6,814.7 1078.1,809.3 1078.5,804.7 1079.0,812.6 1079.5,812.8 1079.9,820.1 1080.4,798.8 1080.9,808.2 1081.3,814.7 1081.8,802.7 1082.3,808.1 1082.7,820.3 1083.2,816.7 1083.7,804.8 1084.1,816.8 1084.6,815.6 1085.1,813.5 1085.5,811.5 1086.0,810.7 1086.5,805.0 1086.9,806.9 1087.4,813.4 1087.8,810.3 1088.3,819.2 1088.8,807.9 1089.2,797.2 1089.7,808.0 1090.2,811.2 1090.6,811.8 1091.1,810.1 1091.6,805.6 1092.0,817.6 1092.5,806.4 1093.0,813.5 1093.4,808.3 1093.9,803.6 1094.4,817.1 1094.8,796.7 1095.3,805.3 1095.8,812.0 1096.2,807.9 1096.7,813.6 1097.2,809.2 1097.6,807.3 1098.1,820.8 1098.6,808.5 1099.0,808.8 1099.5,804.0 1100.0,805.7 1100.4,812.9 1100.9,812.5 1101.4,809.5 1101.8,805.9 1102.3,813.1 1102.7,800.7 1103.2,807.7 1103.7,808.2 1104.1,805.1 1104.6,810.2 1105.1,806.0 1105.5,805.3 1106.0,818.7 1106.5,813.2 1106.9,815.6 1107.4,809.6 1107.9,814.3 1108.3,813.4 1108.8,815.6 1109.3,821.5 1109.7,808.1 1110.2,810.6 1110.7,809.0 1111.1,792.8 1111.6,802.0 1112.1,809.3 1112.5,812.5 1113.0,806.2 1113.5,815.0 1113.9,815.8 1114.4,807.0 1114.9,816.5 1115.3,818.2 1115.8,811.5 1116.3,804.0 1116.7,816.6 1117.2,808.2 1117.6,807.1 1118.1,809.6 1118.6,806.2 1119.0,814.5 1119.5,813.1 1120.0,815.4 1120.4,812.1 1120.9,805.1 1121.4,808.4 1121.8,813.8 1122.3,807.2 1122.8,824.4 1123.2,808.2 1123.7,806.4 1124.2,815.4 1124.6,813.4 1125.1,809.4 1125.6,808.4 1126.0,811.9 1126.5,814.0 1127.0,813.7 1127.4,808.3 1127.9,812.1 1128.4,814.3 1128.8,813.9 1129.3,794.1 1129.8,805.4 1130.2,806.1 1130.7,808.9 1131.2,811.1 1131.6,815.0 1132.1,813.4 1132.5,809.6 1133.0,810.5 1133.5,819.5 1133.9,807.3 1134.4,812.1 1134.9,818.6 1135.3,812.4 1135.8,800.1 1136.3,812.6 1136.7,808.7 1137.2,810.2 1137.7,816.2 1138.1,813.3 1138.6,809.5 1139.1,815.5 1139.5,813.2 1140.0,811.6 1140.5,812.6 1140.9,812.4 1141.4,809.4 1141.9,808.8 1142.3,811.4 1142.8,806.4 1143.3,804.9 1143.7,818.1 1144.2,810.2 1144.7,811.3 1145.1,810.8 1145.6,811.6 1146.1,811.6 1146.5,811.9 1147.0,807.4 1147.4,816.4 1147.9,808.0 1148.4,816.9 1148.8,801.7 1149.3,806.2 1149.8,816.7 1150.2,810.9 1150.7,808.2 1151.2,813.6 1151.6,806.3 1152.1,812.1 1152.6,800.3 1153.0,809.4 1153.5,808.4 1154.0,814.5 1154.4,816.3 1154.9,807.4 1155.4,820.1 1155.8,808.8 1156.3,801.3 1156.8,799.6 1157.2,819.8 1157.7,811.4 1158.2,808.6 1158.6,808.0 1159.1,806.3 1159.6,818.9 1160.0,811.5 1160.5,821.1 1161.0,810.9 1161.4,799.9 1161.9,816.3 1162.4,810.1 1162.8,810.8 1163.3,820.1 1163.7,810.7 1164.2,818.0 1164.7,812.0 1165.1,808.2 1165.6,814.7 1166.1,809.0 1166.5,818.4 1167.0,817.1 1167.5,812.5 1167.9,815.3 1168.4,815.1 1168.9,810.8 1169.3,816.8 1169.8,811.0 1170.3,815.4 1170.7,807.4 1171.2,812.8 1171.7,814.4 1172.1,808.2 1172.6,810.2 1173.1,809.6 1173.5,816.1 1174.0,808.7 1174.5,814.6 1174.9,820.2 1175.4,814.2 1175.9,804.1 1176.3,813.1 1176.8,817.8 1177.3,811.0 1177.7,818.2 1178.2,815.7 1178.6,814.7 1179.1,811.2 1179.6,809.9 1180.0,811.2 1180.5,812.9 1181.0,815.3 1181.4,814.8 1181.9,811.1 1182.4,813.0 1182.8,814.6 1183.3,804.3 1183.8,808.7 1184.2,808.6 1184.7,811.7 1185.2,811.3 1185.6,811.4 1186.1,808.3 1186.6,816.2 1187.0,814.2 1187.5,804.4 1188.0,812.9 1188.4,807.1 1188.9,821.6 1189.4,810.5 1189.8,810.9 1190.3,813.3 1190.8,811.9 1191.2,812.6 1191.7,820.9 1192.2,814.1 1192.6,817.2 1193.1,818.7 1193.5,808.0 1194.0,821.6 1194.5,816.5 1194.9,817.9 1195.4,808.6 1195.9,817.2 1196.3,815.2 1196.8,810.3 1197.3,824.8 1197.7,816.0 1198.2,811.8 1198.7,814.0 1199.1,817.6 1199.6,818.7 1200.1,815.9 1200.5,819.1 1201.0,820.4 1201.5,806.5 1201.9,810.3 1202.4,808.0 1202.9,813.3 1203.3,820.1 1203.8,816.1 1204.3,807.3 1204.7,811.2 1205.2,817.9 1205.7,809.9 1206.1,812.1 1206.6,814.1 1207.1,803.2 1207.5,816.5 1208.0,814.2 1208.4,815.4 1208.9,807.4 1209.4,808.5 1209.8,809.3 1210.3,813.6 1210.8,812.7 1211.2,812.9 1211.7,821.4 1212.2,818.9 1212.6,808.5 1213.1,808.9 1213.6,820.9 1214.0,810.5 1214.5,819.2 1215.0,820.3 1215.4,809.3 1215.9,810.7 1216.4,812.4 1216.8,807.6 1217.3,807.0 1217.8,809.9 1218.2,816.3 1218.7,809.6 1219.2,810.8 1219.6,809.4 1220.1,804.8 1220.6,819.3 1221.0,799.8 1221.5,808.4 1222.0,814.5 1222.4,804.5 1222.9,814.7 1223.3,818.0 1223.8,807.2 1224.3,812.6 1224.7,805.9 1225.2,814.1 1225.7,811.9 1226.1,812.6 1226.6,818.4 1227.1,813.8 1227.5,818.2 1228.0,814.6 1228.5,805.2 1228.9,812.6 1229.4,813.8 1229.9,803.9 1230.3,818.0 1230.8,811.5 1231.3,813.0 1231.7,806.6 1232.2,811.5 1232.7,812.6 1233.1,809.4 1233.6,811.4 1234.1,800.2 1234.5,817.9 1235.0,805.3 1235.5,799.8 1235.9,806.0 1236.4,806.6 1236.9,813.6 1237.3,806.2 1237.8,812.2 1238.2,805.9 1238.7,822.0 1239.2,813.5 1239.6,820.6 1240.1,805.5 1240.6,814.0 1241.0,805.7 1241.5,813.5 1242.0,814.0 1242.4,802.4 1242.9,804.7 1243.4,804.5 1243.8,802.8 1244.3,806.7 1244.8,805.5 1245.2,803.0 1245.7,810.8 1246.2,813.1 1246.6,803.6 1247.1,807.4 1247.6,810.3 1248.0,809.0 1248.5,806.6 1249.0,814.3 1249.4,814.4 1249.9,813.5 1250.4,809.0 1250.8,820.2 1251.3,819.0 1251.8,808.1 1252.2,809.5 1252.7,816.2 1253.1,806.1 1253.6,812.2 1254.1,810.4 1254.5,806.6 1255.0,809.0 1255.5,802.2 1255.9,807.5 1256.4,800.1 1256.9,821.8 1257.3,817.9 1257.8,816.5 1258.3,811.8 1258.7,815.4 1259.2,816.8 1259.7,815.5 1260.1,815.0 1260.6,805.7 1261.1,812.5 1261.5,807.7 1262.0,804.4 1262.5,804.6 1262.9,812.6 1263.4,815.8 1263.9,803.5 1264.3,819.3 1264.8,817.9 1265.3,808.5 1265.7,808.1 1266.2,810.1 1266.7,815.5 1267.1,808.6 1267.6,804.9 1268.0,812.3 1268.5,800.1 1269.0,811.3 1269.4,816.5 1269.9,812.1 1270.4,814.6 1270.8,813.1 1271.3,814.3 1271.8,811.4 1272.2,806.4 1272.7,809.5 1273.2,810.3 1273.6,817.1 1274.1,818.9 1274.6,812.8 1275.0,806.9 1275.5,807.0 1276.0,809.8 1276.4,817.8 1276.9,812.5 1277.4,810.5 1277.8,806.9 1278.3,815.3 1278.8,812.3 1279.2,810.6 1279.7,811.4 1280.2,819.4 1280.6,810.1 1281.1,819.5 1281.6,817.2 1282.0,811.2 1282.5,815.4 1282.9,810.3 1283.4,806.8 1283.9,809.6 1284.3,806.4 1284.8,813.6 1285.3,811.1 1285.7,813.9 1286.2,815.2 1286.7,795.2 1287.1,812.7 1287.6,802.0 1288.1,811.9 1288.5,806.7 1289.0,811.7 1289.5,818.1 1289.9,802.5 1290.4,812.1 1290.9,810.8 1291.3,801.6 1291.8,814.5 1292.3,811.4 1292.7,808.7 1293.2,807.6 1293.7,827.5 1294.1,809.3 1294.6,802.2 1295.1,806.6 1295.5,809.5 1296.0,809.4 1296.5,810.9 1296.9,806.1 1297.4,814.1 1297.9,808.9 1298.3,804.5 1298.8,807.3 1299.2,809.5 1299.7,815.7 1300.2,813.9 1300.6,809.8 1301.1,811.6 1301.6,812.6 1302.0,821.8 1302.5,808.4 1303.0,813.9 1303.4,815.2 1303.9,806.7 1304.4,812.5 1304.8,812.4 1305.3,809.2 1305.8,814.5 1306.2,816.8 1306.7,817.3 1307.2,810.7 1307.6,812.6 1308.1,823.6 1308.6,806.1 1309.0,812.8 1309.5,816.2 1310.0,812.5 1310.4,815.1 1310.9,812.6 1311.4,815.6 1311.8,818.3 1312.3,810.7 1312.8,812.8 1313.2,811.5 1313.7,809.8 1314.1,811.7 1314.6,806.1 1315.1,815.6 1315.5,820.5 1316.0,820.5 1316.5,818.4 1316.9,807.1 1317.4,819.6 1317.9,808.3 1318.3,811.7 1318.8,821.3 1319.3,806.6 1319.7,816.3 1320.2,813.4 1320.7,811.3 1321.1,807.6 1321.6,814.2 1322.1,809.7 1322.5,817.4 1323.0,818.3 1323.5,805.1 1323.9,809.6 1324.4,810.5 1324.9,806.2 1325.3,806.5 1325.8,812.6 1326.3,811.1 1326.7,803.9 1327.2,809.5 1327.7,814.8 1328.1,806.2 1328.6,807.6 1329.0,820.3 1329.5,818.9 1330.0,804.1 1330.4,805.5 1330.9,814.2 1331.4,806.3 1331.8,811.1 1332.3,810.1 1332.8,815.2 1333.2,799.6 1333.7,801.3 1334.2,806.2 1334.6,817.5 1335.1,811.7 1335.6,803.8 1336.0,814.9 1336.5,816.0 1337.0,811.3 1337.4,810.8 1337.9,814.7 1338.4,818.6 1338.8,813.3 1339.3,815.2 1339.8,812.3 1340.2,810.7 1340.7,808.0 1341.2,813.9 1341.6,811.1 1342.1,811.4 1342.6,817.3 1343.0,815.1 1343.5,817.1 1343.9,804.8 1344.4,815.5 1344.9,809.7 1345.3,808.7 1345.8,808.4 1346.3,818.9 1346.7,816.9 1347.2,809.2 1347.7,807.1 1348.1,812.9 1348.6,810.5 1349.1,821.2 1349.5,805.5 1350.0,803.6 1350.5,811.6 1350.9,812.9 1351.4,813.6 1351.9,816.7 1352.3,823.4 1352.8,811.2 1353.3,810.2 1353.7,804.1 1354.2,814.2 1354.7,817.3 1355.1,811.7 1355.6,818.9 1356.1,813.2 1356.5,820.6 1357.0,814.7 1357.5,807.7 1357.9,809.8 1358.4,805.3 1358.8,804.3 1359.3,814.3 1359.8,817.4 1360.2,822.8 1360.7,812.7 1361.2,811.8 1361.6,807.4 1362.1,818.0 1362.6,815.0 1363.0,810.0 1363.5,816.5 1364.0,815.8 1364.4,803.6 1364.9,816.7 1365.4,813.7 1365.8,811.0 1366.3,810.9 1366.8,821.8 1367.2,820.7 1367.7,822.2 1368.2,807.2 1368.6,809.7 1369.1,817.5 1369.6,806.9 1370.0,809.4 1370.5,803.9 1371.0,822.3 1371.4,818.3 1371.9,815.3 1372.4,814.1 1372.8,810.9 1373.3,811.0 1373.7,816.1 1374.2,809.4 1374.7,819.2 1375.1,810.5 1375.6,808.6 1376.1,819.5 1376.5,812.3 1377.0,815.8 1377.5,810.9 1377.9,801.7 1378.4,815.7 1378.9,806.2 1379.3,818.4 1379.8,805.2 1380.3,803.6 1380.7,814.5 1381.2,815.1 1381.7,813.5 1382.1,806.9 1382.6,817.5 1383.1,805.7 1383.5,810.7 1384.0,809.0 1384.5,811.1 1384.9,817.3 1385.4,809.8 1385.9,815.8 1386.3,816.5 1386.8,804.4 1387.3,807.2 1387.7,811.1 1388.2,810.0 1388.6,814.5 1389.1,803.3 1389.6,816.6 1390.0,816.7 1390.5,812.2 1391.0,806.1 1391.4,813.0 1391.9,810.3 1392.4,815.8 1392.8,812.6 1393.3,816.6 1393.8,810.8 1394.2,820.2 1394.7,801.5 1395.2,807.9 1395.6,815.5 1396.1,805.4 1396.6,816.7 1397.0,806.9 1397.5,813.5 1398.0,808.4 1398.4,810.8 1398.9,813.9 1399.4,812.5 1399.8,811.1 1400.3,823.8 1400.8,813.0 1401.2,808.1 1401.7,817.6 1402.2,817.1 1402.6,819.1 1403.1,821.9 1403.5,808.3 1404.0,818.3 1404.5,818.7 1404.9,813.0 1405.4,814.2 1405.9,798.0 1406.3,810.1 1406.8,821.9 1407.3,804.1 1407.7,810.3 1408.2,814.4 1408.7,815.9 1409.1,821.2 1409.6,804.2 1410.1,813.2 1410.5,817.3 1411.0,806.4" fill="none" stroke="#ff0000" stroke-width="1.45" stroke-linejoin="round"/>
<path d="M130.5,563.0 131.0,594.4 131.4,589.5 131.9,582.0 132.4,571.0 132.8,578.0 133.3,586.5 133.8,580.9 134.2,586.6 134.7,626.7 135.2,590.4 135.6,584.2 136.1,600.9 136.6,596.4 137.0,598.2 137.5,602.6 138.0,614.5 138.4,610.0 138.9,594.8 139.3,609.2 139.8,618.0 140.3,608.8 140.7,629.6 141.2,627.4 141.7,609.3 142.1,627.3 142.6,649.3 143.1,647.1 143.5,630.9 144.0,644.7 144.5,629.1 144.9,622.6 145.4,648.0 145.9,646.3 146.3,651.3 146.8,646.9 147.3,652.8 147.7,645.0 148.2,658.2 148.7,664.2 149.1,655.8 149.6,667.6 150.1,639.5 150.5,651.9 151.0,678.0 151.5,682.4 151.9,665.9 152.4,662.6 152.9,650.2 153.3,669.4 153.8,674.9 154.2,650.0 154.7,674.0 155.2,674.5 155.6,675.5 156.1,659.8 156.6,680.4 157.0,659.3 157.5,694.7 158.0,681.4 158.4,668.7 158.9,698.6 159.4,698.4 159.8,679.9 160.3,713.2 160.8,678.7 161.2,694.5 161.7,705.2 162.2,668.1 162.6,705.5 163.1,694.8 163.6,696.6 164.0,686.2 164.5,703.1 165.0,688.6 165.4,691.6 165.9,698.7 166.4,691.5 166.8,723.5 167.3,693.1 167.8,700.8 168.2,706.9 168.7,711.8 169.1,721.7 169.6,723.2 170.1,711.8 170.5,711.5 171.0,716.5 171.5,725.4 171.9,724.5 172.4,711.8 172.9,695.6 173.3,741.3 173.8,728.9 174.3,722.0 174.7,723.2 175.2,714.4 175.7,709.7 176.1,717.4 176.6,719.1 177.1,715.6 177.5,707.5 178.0,720.4 178.5,730.6 178.9,720.0 179.4,726.2 179.9,704.8 180.3,725.2 180.8,726.9 181.3,716.1 181.7,711.8 182.2,735.5 182.7,723.8 183.1,738.6 183.6,730.2 184.0,742.2 184.5,733.3 185.0,722.3 185.4,738.3 185.9,737.0 186.4,749.0 186.8,739.5 187.3,742.5 187.8,757.8 188.2,763.2 188.7,761.4 189.2,766.5 189.6,762.8 190.1,768.3 190.6,771.5 191.0,768.7 191.5,767.3 192.0,770.2 192.4,795.1 192.9,772.0 193.4,770.2 193.8,769.3 194.3,773.1 194.8,776.4 195.2,762.9 195.7,754.7 196.2,778.2 196.6,759.4 197.1,778.7 197.6,777.9 198.0,788.5 198.5,794.1 198.9,781.5 199.4,772.7 199.9,767.1 200.3,771.5 200.8,780.4 201.3,759.9 201.7,781.8 202.2,781.5 202.7,788.6 203.1,779.4 203.6,784.4 204.1,776.6 204.5,779.9 205.0,767.4 205.5,786.9 205.9,801.7 206.4,788.8 206.9,791.8 207.3,779.3 207.8,804.1 208.3,783.3 208.7,799.8 209.2,793.8 209.7,784.3 210.1,804.8 210.6,795.7 211.1,798.3 211.5,801.9 212.0,798.2 212.5,795.5 212.9,804.7 213.4,797.0 213.8,802.5 214.3,796.1 214.8,788.9 215.2,797.8 215.7,800.4 216.2,806.2 216.6,818.5 217.1,791.2 217.6,809.8 218.0,787.9 218.5,800.1 219.0,806.0 219.4,789.6 219.9,793.9 220.4,813.9 220.8,813.5 221.3,812.1 221.8,805.9 222.2,835.0 222.7,812.9 223.2,806.6 223.6,831.6 224.1,821.7 224.6,812.6 225.0,828.2 225.5,818.9 226.0,824.4 226.4,821.4 226.9,810.3 227.4,830.5 227.8,823.7 228.3,813.4 228.7,816.8 229.2,834.3 229.7,822.5 230.1,827.5 230.6,834.3 231.1,830.3 231.5,815.4 232.0,837.3 232.5,841.5 232.9,842.3 233.4,851.0 233.9,840.5 234.3,845.9 234.8,855.2 235.3,838.8 235.7,859.6 236.2,861.0 236.7,853.5 237.1,865.0 237.6,857.2 238.1,842.2 238.5,862.5 239.0,855.8 239.5,857.2 239.9,855.4 240.4,867.5 240.9,860.5 241.3,849.3 241.8,861.1 242.3,864.1 242.7,851.0 243.2,854.4 243.6,855.5 244.1,854.1 244.6,863.7 245.0,870.6 245.5,879.5 246.0,873.7 246.4,872.8 246.9,874.6 247.4,877.1 247.8,861.9 248.3,872.6 248.8,869.8 249.2,866.3 249.7,864.0 250.2,864.3 250.6,867.2 251.1,858.9 251.6,875.7 252.0,871.0 252.5,872.4 253.0,874.8 253.4,878.6 253.9,866.6 254.4,871.3 254.8,857.7 255.3,852.3 255.8,855.1 256.2,887.3 256.7,856.6 257.2,878.0 257.6,887.4 258.1,869.8 258.5,889.2 259.0,891.4 259.5,883.3 259.9,896.6 260.4,880.8 260.9,868.6 261.3,880.3 261.8,871.7 262.3,864.1 262.7,864.5 263.2,897.5 263.7,871.7 264.1,876.6 264.6,871.2 265.1,879.1 265.5,876.5 266.0,875.8 266.5,869.3 266.9,868.3 267.4,875.2 267.9,885.4 268.3,902.3 268.8,893.9 269.3,901.6 269.7,890.3 270.2,886.0 270.7,875.6 271.1,888.1 271.6,869.2 272.1,886.1 272.5,903.7 273.0,892.3 273.5,899.8 273.9,886.5 274.4,877.9 274.8,886.2 275.3,887.2 275.8,901.8 276.2,909.0 276.7,885.0 277.2,888.7 277.6,891.0 278.1,889.6 278.6,882.3 279.0,894.8 279.5,897.8 280.0,898.6 280.4,885.1 280.9,895.4 281.4,881.6 281.8,905.8 282.3,889.3 282.8,896.4 283.2,895.3 283.7,894.5 284.2,890.6 284.6,884.6 285.1,915.8 285.6,903.0 286.0,903.4 286.5,919.8 287.0,900.7 287.4,906.7 287.9,902.4 288.4,912.9 288.8,907.1 289.3,905.8 289.7,901.1 290.2,906.0 290.7,914.0 291.1,886.0 291.6,903.3 292.1,901.1 292.5,902.4 293.0,888.2 293.5,912.0 293.9,898.6 294.4,904.3 294.9,902.2 295.3,892.4 295.8,903.4 296.3,891.6 296.7,899.7 297.2,905.5 297.7,908.5 298.1,909.3 298.6,907.9 299.1,927.9 299.5,913.5 300.0,899.5 300.5,905.1 300.9,905.0 301.4,909.5 301.9,906.2 302.3,904.4 302.8,926.2 303.3,912.9 303.7,910.0 304.2,911.1 304.6,911.8 305.1,925.9 305.6,918.5 306.0,924.4 306.5,888.6 307.0,918.4 307.4,925.0 307.9,933.2 308.4,917.0 308.8,902.6 309.3,922.5 309.8,912.9 310.2,903.2 310.7,913.5 311.2,928.0 311.6,929.7 312.1,926.0 312.6,911.5 313.0,942.0 313.5,911.4 314.0,921.1 314.4,910.1 314.9,933.7 315.4,926.9 315.8,931.1 316.3,924.8 316.8,924.0 317.2,926.5 317.7,909.7 318.2,934.2 318.6,934.0 319.1,923.6 319.5,927.2 320.0,930.3 320.5,941.3 320.9,932.3 321.4,929.5 321.9,925.4 322.3,917.6 322.8,925.4 323.3,931.2 323.7,928.7 324.2,931.6 324.7,937.3 325.1,934.9 325.6,933.8 326.1,937.1 326.5,933.4 327.0,931.8 327.5,936.1 327.9,918.2 328.4,942.9 328.9,922.2 329.3,939.8 329.8,933.3 330.3,942.4 330.7,933.8 331.2,926.0 331.7,942.6 332.1,935.6 332.6,935.2 333.1,935.1 333.5,942.7 334.0,941.3 334.4,936.7 334.9,922.4 335.4,931.8 335.8,936.1 336.3,949.9 336.8,938.6 337.2,934.9 337.7,945.5 338.2,935.0 338.6,935.8 339.1,937.5 339.6,924.3 340.0,944.2 340.5,940.0 341.0,934.5 341.4,927.7 341.9,938.7 342.4,948.4 342.8,932.1 343.3,929.0 343.8,941.1 344.2,925.2 344.7,920.6 345.2,935.1 345.6,933.4 346.1,937.0 346.6,935.2 347.0,942.5 347.5,938.4 348.0,935.8 348.4,937.2 348.9,946.2 349.3,949.1 349.8,948.9 350.3,947.6 350.7,916.6 351.2,934.8 351.7,940.5 352.1,945.0 352.6,930.9 353.1,955.2 353.5,946.7 354.0,939.7 354.5,946.1 354.9,942.4 355.4,939.5 355.9,949.6 356.3,942.4 356.8,935.2 357.3,941.5 357.7,945.9 358.2,938.6 358.7,957.2 359.1,939.1 359.6,961.6 360.1,955.1 360.5,941.1 361.0,949.7 361.5,958.2 361.9,947.8 362.4,940.3 362.9,950.7 363.3,965.5 363.8,938.8 364.2,954.9 364.7,950.9 365.2,950.2 365.6,948.3 366.1,949.0 366.6,959.7 367.0,956.5 367.5,944.5 368.0,964.3 368.4,942.7 368.9,957.9 369.4,954.5 369.8,962.4 370.3,956.2 370.8,961.8 371.2,953.8 371.7,961.6 372.2,957.0 372.6,970.9 373.1,949.5 373.6,964.1 374.0,958.8 374.5,956.8 375.0,951.4 375.4,959.2 375.9,944.8 376.4,945.7 376.8,961.6 377.3,944.6 377.8,967.3 378.2,954.5 378.7,958.6 379.1,957.4 379.6,960.2 380.1,955.0 380.5,954.5 381.0,956.5 381.5,965.4 381.9,966.2 382.4,967.3 382.9,960.7 383.3,956.6 383.8,945.7 384.3,963.2 384.7,964.8 385.2,955.6 385.7,964.7 386.1,968.4 386.6,959.6 387.1,966.9 387.5,961.5 388.0,946.4 388.5,955.9 388.9,956.4 389.4,963.5 389.9,953.3 390.3,956.6 390.8,952.8 391.3,959.8 391.7,960.7 392.2,967.5 392.7,966.3 393.1,961.7 393.6,962.4 394.1,961.5 394.5,961.6 395.0,972.3 395.4,942.7 395.9,959.8 396.4,963.5 396.8,969.7 397.3,953.4 397.8,964.1 398.2,968.0 398.7,958.5 399.2,947.9 399.6,959.4 400.1,953.3 400.6,967.0 401.0,956.1 401.5,975.5 402.0,963.6 402.4,956.7 402.9,958.8 403.4,954.5 403.8,965.3 404.3,973.3 404.8,960.9 405.2,969.2 405.7,955.5 406.2,964.6 406.6,979.1 407.1,952.1 407.6,971.3 408.0,970.8 408.5,948.6 409.0,951.8 409.4,955.1 409.9,969.2 410.3,959.1 410.8,960.9 411.3,967.3 411.7,963.0 412.2,963.7 412.7,959.7 413.1,970.2 413.6,956.4 414.1,974.1 414.5,959.5 415.0,956.2 415.5,966.6 415.9,965.2 416.4,947.6 416.9,963.5 417.3,952.1 417.8,955.9 418.3,967.4 418.7,955.6 419.2,964.3 419.7,959.0 420.1,975.6 420.6,961.0 421.1,953.2 421.5,953.7 422.0,955.1 422.5,962.5 422.9,961.5 423.4,968.4 423.9,962.7 424.3,962.5 424.8,963.9 425.2,960.8 425.7,963.9 426.2,967.4 426.6,967.5 427.1,958.2 427.6,949.6 428.0,956.5 428.5,964.3 429.0,944.7 429.4,959.1 429.9,965.7 430.4,958.6 430.8,954.8 431.3,975.2 431.8,972.6 432.2,961.1 432.7,972.4 433.2,972.3 433.6,955.2 434.1,982.2 434.6,956.7 435.0,961.6 435.5,955.8 436.0,964.1 436.4,954.4 436.9,963.7 437.4,971.4 437.8,965.4 438.3,962.1 438.8,974.9 439.2,957.9 439.7,971.0 440.1,962.2 440.6,965.9 441.1,964.7 441.5,965.5 442.0,964.3 442.5,959.3 442.9,960.8 443.4,968.0 443.9,964.2 444.3,956.9 444.8,960.2 445.3,960.4 445.7,964.9 446.2,966.6 446.7,966.0 447.1,960.8 447.6,965.5 448.1,955.9 448.5,945.4 449.0,965.0 449.5,954.0 449.9,958.9 450.4,957.1 450.9,969.8 451.3,957.1 451.8,967.4 452.3,962.1 452.7,957.0 453.2,954.7 453.7,968.7 454.1,968.2 454.6,970.9 455.0,978.2 455.5,967.5 456.0,967.6 456.4,964.8 456.9,966.4 457.4,963.3 457.8,959.6 458.3,979.3 458.8,953.0 459.2,967.5 459.7,968.8 460.2,966.8 460.6,959.2 461.1,964.5 461.6,962.7 462.0,958.5 462.5,965.5 463.0,963.1 463.4,962.1 463.9,970.5 464.4,958.7 464.8,968.9 465.3,961.8 465.8,968.8 466.2,966.4 466.7,967.6 467.2,959.3 467.6,960.7 468.1,960.2 468.6,967.2 469.0,971.1 469.5,973.4 469.9,962.8 470.4,966.8 470.9,955.3 471.3,951.3 471.8,960.5 472.3,961.9 472.7,955.9 473.2,954.5 473.7,970.0 474.1,961.1 474.6,955.3 475.1,982.1 475.5,967.8 476.0,964.5 476.5,971.2 476.9,961.6 477.4,977.3 477.9,956.5 478.3,958.1 478.8,965.9 479.3,961.8 479.7,976.3 480.2,956.3 480.7,962.1 481.1,968.6 481.6,970.8 482.1,973.7 482.5,969.4 483.0,981.8 483.5,964.1 483.9,968.4 484.4,972.9 484.8,965.2 485.3,965.4 485.8,964.3 486.2,963.2 486.7,960.0 487.2,963.9 487.6,957.4 488.1,970.1 488.6,957.2 489.0,981.2 489.5,978.9 490.0,975.0 490.4,966.5 490.9,964.1 491.4,976.1 491.8,969.4 492.3,972.0 492.8,963.8 493.2,975.6 493.7,963.5 494.2,969.6 494.6,957.7 495.1,964.8 495.6,972.5 496.0,966.4 496.5,966.6 497.0,974.7 497.4,969.3 497.9,977.9 498.4,954.3 498.8,973.8 499.3,973.5 499.7,960.4 500.2,962.1 500.7,976.3 501.1,963.9 501.6,966.8 502.1,974.9 502.5,969.0 503.0,974.4 503.5,965.8 503.9,973.4 504.4,978.6 504.9,973.9 505.3,957.8 505.8,976.2 506.3,972.6 506.7,966.5 507.2,981.4 507.7,961.4 508.1,984.7 508.6,968.8 509.1,983.1 509.5,972.9 510.0,964.8 510.5,974.1 510.9,975.7 511.4,977.2 511.9,980.7 512.3,968.3 512.8,977.3 513.3,979.0 513.7,972.8 514.2,968.7 514.6,968.7 515.1,979.7 515.6,980.2 516.0,970.0 516.5,966.9 517.0,983.4 517.4,965.9 517.9,976.9 518.4,970.9 518.8,965.1 519.3,977.1 519.8,975.2 520.2,985.7 520.7,991.1 521.2,975.7 521.6,983.5 522.1,983.8 522.6,974.1 523.0,972.1 523.5,987.8 524.0,975.6 524.4,977.9 524.9,976.5 525.4,977.7 525.8,974.9 526.3,983.6 526.8,987.0 527.2,977.0 527.7,970.9 528.2,980.1 528.6,970.7 529.1,976.2 529.6,988.0 530.0,995.0 530.5,983.1 530.9,974.4 531.4,986.1 531.9,967.5 532.3,977.3 532.8,991.3 533.3,986.7 533.7,973.7 534.2,972.2 534.7,988.0 535.1,982.6 535.6,979.4 536.1,985.9 536.5,980.0 537.0,971.9 537.5,988.9 537.9,980.2 538.4,978.2 538.9,976.4 539.3,986.3 539.8,980.1 540.3,989.1 540.7,983.8 541.2,992.3 541.7,983.5 542.1,982.1 542.6,974.2 543.1,979.8 543.5,991.1 544.0,1005.6 544.5,979.5 544.9,981.0 545.4,989.6 545.8,990.6 546.3,983.8 546.8,988.6 547.2,978.5 547.7,986.6 548.2,994.1 548.6,998.7 549.1,987.9 549.6,987.5 550.0,992.0 550.5,996.1 551.0,992.5 551.4,985.2 551.9,992.1 552.4,995.9 552.8,986.0 553.3,982.4 553.8,993.7 554.2,993.0 554.7,996.8 555.2,991.7 555.6,987.4 556.1,988.8 556.6,985.5 557.0,986.2 557.5,988.7 558.0,989.5 558.4,999.3 558.9,985.5 559.4,992.8 559.8,989.9 560.3,1002.5 560.7,995.5 561.2,992.0 561.7,999.2 562.1,995.1 562.6,992.2 563.1,1004.0 563.5,999.5 564.0,1005.6 564.5,1002.5 564.9,1000.6 565.4,997.2 565.9,990.7 566.3,1000.9 566.8,997.6 567.3,1001.2 567.7,997.8 568.2,994.6 568.7,993.4 569.1,1003.1 569.6,1006.8 570.1,998.9 570.5,1003.3 571.0,1008.7 571.5,997.6 571.9,1000.8 572.4,997.3 572.9,1009.6 573.3,1005.4 573.8,1002.3 574.3,996.8 574.7,1004.8 575.2,1011.1 575.6,1005.3 576.1,1005.2 576.6,1010.6 577.0,1001.3 577.5,1007.1 578.0,1009.2 578.4,1002.1 578.9,1001.4 579.4,1006.0 579.8,1003.9 580.3,1002.7 580.8,1004.3 581.2,1003.8 581.7,998.1 582.2,998.8 582.6,1003.3 583.1,1005.8 583.6,1006.3 584.0,996.3 584.5,1004.5 585.0,1002.9 585.4,999.4 585.9,1001.4 586.4,1002.8 586.8,1006.6 587.3,994.7 587.8,1001.4 588.2,998.2 588.7,997.8 589.2,1003.2 589.6,1001.7 590.1,994.3 590.5,997.1 591.0,999.0 591.5,992.3 591.9,1000.9 592.4,996.2 592.9,995.7 593.3,994.9 593.8,999.3 594.3,990.6 594.7,987.5 595.2,994.6 595.7,983.9 596.1,982.2 596.6,976.9 597.1,985.4 597.5,980.4 598.0,979.5 598.5,976.5 598.9,973.6 599.4,969.3 599.9,967.4 600.3,969.6 600.8,963.7 601.3,963.6 601.7,945.5 602.2,939.0 602.7,931.4 603.1,940.8 603.6,933.5 604.1,949.8 604.5,961.3 605.0,962.4 605.4,972.4 605.9,964.2 606.4,974.8 606.8,971.3 607.3,980.9 607.8,981.6 608.2,979.4 608.7,988.2 609.2,986.8 609.6,984.0 610.1,985.3 610.6,982.2 611.0,989.3 611.5,1001.1 612.0,989.9 612.4,996.6 612.9,993.7 613.4,1001.4 613.8,1001.3 614.3,999.7 614.8,994.0 615.2,1001.2 615.7,1010.5 616.2,1005.2 616.6,1010.7 617.1,1006.9 617.6,1001.8 618.0,1013.6 618.5,1013.7 619.0,1009.8 619.4,1011.1 619.9,1014.5 620.3,1010.6 620.8,1015.4 621.3,1013.1 621.7,1003.2 622.2,1014.0 622.7,1012.2 623.1,1011.4 623.6,1017.5 624.1,1013.6 624.5,1018.8 625.0,1021.7 625.5,1017.5 625.9,1009.9 626.4,1014.0 626.9,1022.1 627.3,1016.9 627.8,1014.7 628.3,1018.4 628.7,1021.6 629.2,1020.8 629.7,1023.0 630.1,1016.4 630.6,1019.4 631.1,1019.9 631.5,1021.3 632.0,1011.9 632.5,1021.0 632.9,1016.2 633.4,1029.4 633.9,1030.5 634.3,1031.5 634.8,1027.8 635.2,1022.0 635.7,1029.2 636.2,1024.1 636.6,1028.3 637.1,1021.5 637.6,1023.4 638.0,1028.7 638.5,1035.0 639.0,1026.5 639.4,1037.0 639.9,1039.1 640.4,1019.9 640.8,1025.5 641.3,1020.9 641.8,1024.5 642.2,1022.4 642.7,1024.3 643.2,1028.9 643.6,1028.5 644.1,1025.0 644.6,1023.6 645.0,1023.8 645.5,1023.6 646.0,1025.5 646.4,1022.5 646.9,1024.6 647.4,1015.9 647.8,1025.4 648.3,1029.6 648.8,1022.1 649.2,1014.3 649.7,1027.0 650.2,1018.9 650.6,1006.2 651.1,1019.0 651.5,1022.9 652.0,1022.0 652.5,1026.1 652.9,1023.3 653.4,1021.1 653.9,1011.4 654.3,1015.5 654.8,1021.7 655.3,1024.1 655.7,1016.3 656.2,1018.3 656.7,1023.5 657.1,1012.5 657.6,1012.5 658.1,1020.6 658.5,1022.9 659.0,1019.6 659.5,1011.3 659.9,1022.2 660.4,1016.0 660.9,1025.3 661.3,1022.0 661.8,1023.8 662.3,1025.6 662.7,1020.3 663.2,1026.7 663.7,1028.8 664.1,1025.1 664.6,1029.7 665.1,1020.9 665.5,1028.3 666.0,1025.6 666.4,1020.0 666.9,1024.5 667.4,1022.7 667.8,1022.8 668.3,1026.0 668.8,1030.8 669.2,1024.7 669.7,1027.0 670.2,1019.9 670.6,1027.4 671.1,1032.5 671.6,1031.2 672.0,1029.9 672.5,1025.6 673.0,1023.8 673.4,1028.1 673.9,1022.6 674.4,1023.3 674.8,1033.6 675.3,1025.3 675.8,1038.1 676.2,1023.5 676.7,1032.3 677.2,1025.2 677.6,1031.7 678.1,1026.4 678.6,1031.6 679.0,1031.0 679.5,1029.9 680.0,1034.6 680.4,1039.5 680.9,1030.1 681.3,1037.1 681.8,1033.7 682.3,1033.5 682.7,1043.9 683.2,1024.2 683.7,1031.3 684.1,1026.4 684.6,1033.5 685.1,1034.2 685.5,1050.4 686.0,1037.4 686.5,1044.3 686.9,1042.3 687.4,1034.6 687.9,1039.0 688.3,1044.6 688.8,1037.8 689.3,1038.0 689.7,1039.4 690.2,1030.2 690.7,1033.4 691.1,1038.7 691.6,1039.7 692.1,1033.1 692.5,1035.8 693.0,1036.8 693.5,1036.7 693.9,1040.6 694.4,1037.9 694.9,1038.2 695.3,1031.1 695.8,1032.8 696.2,1039.1 696.7,1030.4 697.2,1038.9 697.6,1034.7 698.1,1034.0 698.6,1040.7 699.0,1034.7 699.5,1033.9 700.0,1034.8 700.4,1038.2 700.9,1050.5 701.4,1028.5 701.8,1038.2 702.3,1037.3 702.8,1042.9 703.2,1037.1 703.7,1027.7 704.2,1045.1 704.6,1034.2 705.1,1039.1 705.6,1033.3 706.0,1034.7 706.5,1037.5 707.0,1043.8 707.4,1043.9 707.9,1037.5 708.4,1042.7 708.8,1038.8 709.3,1041.2 709.8,1041.5 710.2,1043.8 710.7,1038.3 711.1,1040.7 711.6,1042.4 712.1,1042.0 712.5,1038.1 713.0,1049.6 713.5,1039.8 713.9,1045.3 714.4,1042.8 714.9,1047.4 715.3,1032.0 715.8,1051.1 716.3,1040.9 716.7,1036.3 717.2,1042.5 717.7,1052.1 718.1,1044.2 718.6,1036.3 719.1,1039.8 719.5,1047.9 720.0,1035.5 720.5,1041.1 720.9,1040.5 721.4,1051.6 721.9,1040.6 722.3,1047.8 722.8,1038.8 723.3,1038.2 723.7,1046.4 724.2,1044.7 724.7,1034.1 725.1,1044.7 725.6,1044.8 726.0,1039.2 726.5,1043.0 727.0,1043.3 727.4,1040.0 727.9,1039.7 728.4,1039.4 728.8,1041.3 729.3,1036.6 729.8,1042.5 730.2,1036.1 730.7,1043.2 731.2,1042.6 731.6,1038.4 732.1,1046.9 732.6,1051.9 733.0,1049.2 733.5,1037.3 734.0,1049.2 734.4,1044.6 734.9,1043.4 735.4,1041.1 735.8,1043.8 736.3,1050.1 736.8,1046.5 737.2,1042.3 737.7,1041.2 738.2,1042.5 738.6,1047.0 739.1,1052.8 739.6,1039.9 740.0,1044.7 740.5,1043.1 740.9,1041.5 741.4,1046.7 741.9,1047.5 742.3,1038.8 742.8,1040.6 743.3,1050.6 743.7,1046.8 744.2,1047.8 744.7,1043.4 745.1,1044.0 745.6,1047.8 746.1,1043.6 746.5,1041.0 747.0,1046.0 747.5,1050.1 747.9,1041.6 748.4,1050.8 748.9,1049.3 749.3,1042.5 749.8,1046.4 750.3,1046.2 750.7,1049.3 751.2,1049.5 751.7,1040.9 752.1,1040.7 752.6,1051.3 753.1,1047.3 753.5,1048.7 754.0,1048.4 754.5,1053.7 754.9,1041.8 755.4,1051.9 755.8,1043.6 756.3,1050.5 756.8,1053.2 757.2,1041.3 757.7,1049.2 758.2,1046.3 758.6,1046.3 759.1,1047.8 759.6,1043.1 760.0,1043.5 760.5,1050.7 761.0,1051.6 761.4,1045.5 761.9,1041.6 762.4,1058.2 762.8,1053.0 763.3,1049.8 763.8,1043.8 764.2,1045.8 764.7,1049.5 765.2,1044.3 765.6,1055.5 766.1,1049.2 766.6,1050.4 767.0,1044.2 767.5,1044.8 768.0,1045.4 768.4,1050.1 768.9,1047.9 769.4,1047.8 769.8,1050.6 770.3,1050.2 770.7,1055.8 771.2,1048.6 771.7,1045.1 772.1,1049.6 772.6,1056.0 773.1,1047.4 773.5,1050.1 774.0,1048.4 774.5,1051.8 774.9,1051.2 775.4,1046.7 775.9,1049.3 776.3,1054.4 776.8,1055.2 777.3,1054.5 777.7,1054.3 778.2,1049.3 778.7,1049.2 779.1,1054.9 779.6,1045.9 780.1,1050.8 780.5,1043.1 781.0,1049.6 781.5,1048.3 781.9,1046.2 782.4,1054.0 782.9,1048.4 783.3,1050.1 783.8,1050.6 784.3,1048.7 784.7,1058.0 785.2,1049.9 785.7,1052.9 786.1,1046.6 786.6,1050.2 787.0,1050.9 787.5,1051.1 788.0,1050.0 788.4,1053.2 788.9,1059.3 789.4,1052.2 789.8,1052.2 790.3,1051.2 790.8,1063.8 791.2,1059.9 791.7,1055.4 792.2,1056.1 792.6,1050.1 793.1,1052.5 793.6,1054.1 794.0,1053.7 794.5,1049.6 795.0,1050.0 795.4,1055.5 795.9,1054.7 796.4,1044.5 796.8,1053.9 797.3,1058.9 797.8,1050.8 798.2,1054.6 798.7,1047.5 799.2,1057.2 799.6,1049.0 800.1,1048.5 800.6,1052.5 801.0,1063.9 801.5,1051.3 801.9,1048.6 802.4,1055.9 802.9,1055.0 803.3,1061.1 803.8,1048.7 804.3,1047.4 804.7,1052.8 805.2,1055.8 805.7,1055.8 806.1,1058.9 806.6,1048.0 807.1,1050.9 807.5,1053.9 808.0,1058.0 808.5,1056.5 808.9,1052.8 809.4,1050.3 809.9,1058.4 810.3,1058.7 810.8,1066.2 811.3,1054.0 811.7,1061.6 812.2,1049.7 812.7,1052.6 813.1,1052.1 813.6,1053.0 814.1,1051.3 814.5,1052.7 815.0,1054.8 815.5,1053.1 815.9,1057.8 816.4,1054.7 816.8,1055.1 817.3,1061.3 817.8,1056.4 818.2,1055.8 818.7,1055.1 819.2,1055.4 819.6,1057.6 820.1,1051.9 820.6,1060.0 821.0,1061.8 821.5,1060.1 822.0,1053.2 822.4,1048.7 822.9,1053.5 823.4,1056.0 823.8,1058.8 824.3,1054.6 824.8,1054.2 825.2,1061.8 825.7,1052.7 826.2,1059.9 826.6,1059.3 827.1,1050.0 827.6,1056.7 828.0,1053.3 828.5,1051.6 829.0,1047.9 829.4,1049.1 829.9,1057.4 830.4,1054.1 830.8,1056.8 831.3,1051.3 831.7,1054.4 832.2,1054.6 832.7,1049.4 833.1,1048.9 833.6,1057.7 834.1,1056.5 834.5,1052.0 835.0,1055.4 835.5,1058.6 835.9,1063.4 836.4,1052.1 836.9,1058.3 837.3,1064.5 837.8,1056.0 838.3,1061.8 838.7,1045.0 839.2,1061.7 839.7,1055.6 840.1,1047.9 840.6,1058.8 841.1,1059.9 841.5,1060.6 842.0,1060.5 842.5,1055.4 842.9,1052.4 843.4,1053.6 843.9,1055.3 844.3,1057.1 844.8,1053.4 845.3,1055.6 845.7,1059.0 846.2,1056.7 846.6,1064.8 847.1,1064.2 847.6,1050.6 848.0,1052.9 848.5,1049.9 849.0,1050.4 849.4,1057.5 849.9,1051.1 850.4,1050.9 850.8,1054.0 851.3,1058.4 851.8,1053.6 852.2,1053.6 852.7,1058.8 853.2,1057.0 853.6,1056.9 854.1,1058.9 854.6,1050.8 855.0,1055.8 855.5,1052.3 856.0,1059.1 856.4,1058.2 856.9,1050.6 857.4,1060.4 857.8,1050.1 858.3,1059.7 858.8,1055.7 859.2,1051.3 859.7,1050.3 860.2,1053.6 860.6,1054.8 861.1,1052.0 861.5,1057.2 862.0,1049.1 862.5,1054.8 862.9,1054.9 863.4,1047.2 863.9,1056.1 864.3,1049.7 864.8,1044.7 865.3,1052.4 865.7,1053.9 866.2,1058.6 866.7,1052.9 867.1,1060.9 867.6,1060.8 868.1,1059.3 868.5,1060.3 869.0,1056.3 869.5,1052.6 869.9,1057.5 870.4,1058.8 870.9,1055.8 871.3,1053.9 871.8,1048.5 872.3,1057.6 872.7,1056.3 873.2,1049.6 873.7,1055.3 874.1,1057.8 874.6,1054.4 875.1,1058.1 875.5,1057.9 876.0,1048.9 876.4,1053.7 876.9,1056.8 877.4,1058.6 877.8,1060.6 878.3,1047.1 878.8,1054.6 879.2,1057.6 879.7,1059.5 880.2,1061.2 880.6,1050.4 881.1,1052.5 881.6,1049.6 882.0,1057.0 882.5,1048.2 883.0,1058.2 883.4,1057.0 883.9,1055.0 884.4,1044.1 884.8,1049.9 885.3,1055.5 885.8,1046.6 886.2,1051.2 886.7,1051.6 887.2,1055.4 887.6,1052.8 888.1,1052.6 888.6,1049.5 889.0,1051.2 889.5,1050.5 890.0,1053.9 890.4,1050.3 890.9,1055.3 891.3,1044.4 891.8,1056.3 892.3,1050.9 892.7,1056.2 893.2,1052.1 893.7,1055.4 894.1,1058.1 894.6,1050.0 895.1,1052.6 895.5,1051.8 896.0,1053.4 896.5,1046.2 896.9,1052.1 897.4,1051.9 897.9,1049.9 898.3,1052.4 898.8,1047.1 899.3,1059.1 899.7,1055.4 900.2,1061.3 900.7,1050.3 901.1,1049.3 901.6,1055.3 902.1,1047.6 902.5,1055.4 903.0,1051.8 903.5,1053.5 903.9,1056.0 904.4,1055.3 904.9,1062.8 905.3,1058.0 905.8,1050.5 906.3,1059.7 906.7,1050.6 907.2,1056.5 907.6,1051.3 908.1,1053.2 908.6,1061.9 909.0,1054.6 909.5,1054.4 910.0,1054.9 910.4,1056.1 910.9,1063.2 911.4,1052.9 911.8,1052.9 912.3,1060.4 912.8,1052.0 913.2,1057.2 913.7,1063.4 914.2,1059.2 914.6,1057.6 915.1,1057.0 915.6,1056.5 916.0,1058.1 916.5,1061.2 917.0,1065.9 917.4,1065.1 917.9,1059.3 918.4,1059.0 918.8,1064.9 919.3,1055.3 919.8,1061.0 920.2,1061.8 920.7,1058.9 921.2,1059.7 921.6,1065.3 922.1,1057.7 922.5,1060.9 923.0,1062.2 923.5,1065.2 923.9,1059.5 924.4,1069.3 924.9,1063.8 925.3,1064.1 925.8,1063.7 926.3,1062.6 926.7,1061.4 927.2,1069.9 927.7,1066.2 928.1,1065.0 928.6,1069.4 929.1,1062.8 929.5,1068.1 930.0,1065.8 930.5,1062.3 930.9,1068.8 931.4,1060.0 931.9,1068.5 932.3,1062.5 932.8,1067.7 933.3,1071.5 933.7,1068.4 934.2,1063.9 934.7,1066.2 935.1,1064.9 935.6,1061.8 936.1,1062.2 936.5,1066.7 937.0,1068.7 937.4,1059.8 937.9,1066.5 938.4,1068.8 938.8,1067.3 939.3,1063.0 939.8,1071.0 940.2,1062.3 940.7,1069.6 941.2,1073.4 941.6,1059.3 942.1,1068.3 942.6,1068.6 943.0,1068.3 943.5,1064.5 944.0,1066.3 944.4,1062.2 944.9,1068.1 945.4,1069.7 945.8,1065.0 946.3,1063.9 946.8,1065.7 947.2,1067.4 947.7,1067.6 948.2,1067.0 948.6,1067.6 949.1,1062.2 949.6,1056.7 950.0,1069.6 950.5,1072.6 951.0,1061.6 951.4,1064.5 951.9,1068.2 952.3,1070.6 952.8,1069.4 953.3,1071.8 953.7,1066.6 954.2,1068.4 954.7,1068.3 955.1,1065.0 955.6,1071.3 956.1,1069.0 956.5,1070.3 957.0,1065.0 957.5,1070.4 957.9,1062.4 958.4,1067.9 958.9,1056.3 959.3,1062.5 959.8,1069.1 960.3,1064.5 960.7,1066.8 961.2,1059.9 961.7,1072.0 962.1,1068.3 962.6,1065.9 963.1,1067.6 963.5,1067.2 964.0,1071.3 964.5,1066.7 964.9,1060.2 965.4,1064.8 965.9,1070.6 966.3,1067.8 966.8,1064.0 967.2,1067.9 967.7,1066.0 968.2,1067.9 968.6,1059.5 969.1,1062.1 969.6,1068.0 970.0,1064.6 970.5,1066.8 971.0,1072.9 971.4,1064.2 971.9,1066.3 972.4,1063.3 972.8,1063.0 973.3,1065.0 973.8,1059.8 974.2,1057.3 974.7,1070.4 975.2,1064.9 975.6,1069.5 976.1,1065.7 976.6,1065.7 977.0,1067.7 977.5,1067.8 978.0,1060.6 978.4,1069.7 978.9,1061.4 979.4,1065.8 979.8,1074.7 980.3,1065.3 980.8,1071.3 981.2,1063.7 981.7,1067.3 982.1,1065.1 982.6,1066.5 983.1,1061.7 983.5,1061.4 984.0,1066.1 984.5,1059.0 984.9,1061.6 985.4,1067.2 985.9,1062.5 986.3,1061.4 986.8,1060.6 987.3,1065.3 987.7,1063.3 988.2,1065.2 988.7,1064.0 989.1,1071.6 989.6,1063.2 990.1,1057.6 990.5,1065.5 991.0,1065.2 991.5,1066.0 991.9,1059.5 992.4,1069.9 992.9,1065.7 993.3,1065.8 993.8,1060.2 994.3,1068.0 994.7,1066.1 995.2,1071.6 995.7,1065.1 996.1,1062.2 996.6,1067.4 997.0,1063.7 997.5,1068.8 998.0,1063.4 998.4,1067.1 998.9,1066.8 999.4,1067.7 999.8,1066.1 1000.3,1065.1 1000.8,1068.0 1001.2,1066.3 1001.7,1069.1 1002.2,1067.6 1002.6,1060.3 1003.1,1068.3 1003.6,1073.6 1004.0,1069.6 1004.5,1070.6 1005.0,1070.0 1005.4,1066.6 1005.9,1063.4 1006.4,1071.2 1006.8,1072.1 1007.3,1070.2 1007.8,1069.7 1008.2,1069.5 1008.7,1067.9 1009.2,1069.0 1009.6,1068.0 1010.1,1069.1 1010.6,1064.4 1011.0,1065.5 1011.5,1069.9 1011.9,1066.5 1012.4,1058.8 1012.9,1068.1 1013.3,1059.2 1013.8,1074.6 1014.3,1070.1 1014.7,1069.9 1015.2,1065.0 1015.7,1063.3 1016.1,1066.6 1016.6,1067.4 1017.1,1064.5 1017.5,1067.8 1018.0,1069.7 1018.5,1069.3 1018.9,1063.3 1019.4,1059.2 1019.9,1067.0 1020.3,1064.6 1020.8,1068.6 1021.3,1072.9 1021.7,1072.8 1022.2,1067.9 1022.7,1070.8 1023.1,1072.7 1023.6,1066.9 1024.1,1067.7 1024.5,1069.8 1025.0,1066.6 1025.5,1064.9 1025.9,1064.0 1026.4,1066.8 1026.8,1064.6 1027.3,1069.7 1027.8,1065.6 1028.2,1072.2 1028.7,1071.3 1029.2,1062.4 1029.6,1070.8 1030.1,1065.5 1030.6,1071.9 1031.0,1068.9 1031.5,1066.9 1032.0,1069.5 1032.4,1065.1 1032.9,1068.3 1033.4,1068.5 1033.8,1066.6 1034.3,1068.6 1034.8,1063.6 1035.2,1069.2 1035.7,1062.9 1036.2,1069.5 1036.6,1069.0 1037.1,1069.9 1037.6,1065.3 1038.0,1078.3 1038.5,1066.6 1039.0,1068.0 1039.4,1064.7 1039.9,1072.6 1040.4,1065.8 1040.8,1071.1 1041.3,1064.2 1041.8,1068.7 1042.2,1066.3 1042.7,1071.0 1043.1,1066.6 1043.6,1064.6 1044.1,1069.3 1044.5,1063.4 1045.0,1064.3 1045.5,1070.5 1045.9,1061.1 1046.4,1070.4 1046.9,1066.2 1047.3,1064.3 1047.8,1068.4 1048.3,1069.7 1048.7,1065.3 1049.2,1066.7 1049.7,1070.1 1050.1,1069.9 1050.6,1067.0 1051.1,1064.4 1051.5,1063.7 1052.0,1064.9 1052.5,1069.3 1052.9,1068.9 1053.4,1067.9 1053.9,1071.7 1054.3,1065.6 1054.8,1065.2 1055.3,1065.2 1055.7,1073.3 1056.2,1059.1 1056.7,1067.4 1057.1,1067.9 1057.6,1066.4 1058.0,1074.4 1058.5,1070.2 1059.0,1068.8 1059.4,1062.8 1059.9,1067.7 1060.4,1064.6 1060.8,1066.1 1061.3,1066.7 1061.8,1064.3 1062.2,1068.2 1062.7,1071.8 1063.2,1069.7 1063.6,1066.8 1064.1,1059.2 1064.6,1069.9 1065.0,1069.9 1065.5,1065.5 1066.0,1064.5 1066.4,1068.5 1066.9,1063.4 1067.4,1069.1 1067.8,1062.4 1068.3,1063.0 1068.8,1066.4 1069.2,1061.2 1069.7,1066.4 1070.2,1068.2 1070.6,1061.8 1071.1,1069.7 1071.6,1064.5 1072.0,1068.4 1072.5,1067.2 1072.9,1064.9 1073.4,1064.7 1073.9,1060.5 1074.3,1064.1 1074.8,1063.9 1075.3,1072.4 1075.7,1070.2 1076.2,1061.8 1076.7,1069.5 1077.1,1067.5 1077.6,1065.4 1078.1,1068.3 1078.5,1069.5 1079.0,1064.8 1079.5,1065.8 1079.9,1067.4 1080.4,1063.4 1080.9,1067.5 1081.3,1066.6 1081.8,1064.5 1082.3,1064.0 1082.7,1068.0 1083.2,1070.0 1083.7,1068.1 1084.1,1064.0 1084.6,1069.6 1085.1,1067.6 1085.5,1069.1 1086.0,1071.1 1086.5,1063.9 1086.9,1066.6 1087.4,1065.0 1087.8,1064.1 1088.3,1074.2 1088.8,1070.5 1089.2,1061.0 1089.7,1068.7 1090.2,1065.3 1090.6,1071.3 1091.1,1067.6 1091.6,1066.7 1092.0,1067.8 1092.5,1068.7 1093.0,1067.5 1093.4,1066.6 1093.9,1066.9 1094.4,1069.2 1094.8,1063.5 1095.3,1067.5 1095.8,1067.1 1096.2,1065.8 1096.7,1070.1 1097.2,1063.0 1097.6,1066.3 1098.1,1064.6 1098.6,1069.5 1099.0,1066.0 1099.5,1067.8 1100.0,1069.0 1100.4,1062.1 1100.9,1069.3 1101.4,1065.1 1101.8,1066.9 1102.3,1067.4 1102.7,1070.6 1103.2,1070.4 1103.7,1074.0 1104.1,1068.5 1104.6,1066.2 1105.1,1066.1 1105.5,1070.2 1106.0,1073.5 1106.5,1069.1 1106.9,1066.0 1107.4,1068.9 1107.9,1068.9 1108.3,1068.1 1108.8,1065.3 1109.3,1059.0 1109.7,1065.9 1110.2,1071.4 1110.7,1068.4 1111.1,1059.9 1111.6,1067.6 1112.1,1061.1 1112.5,1074.3 1113.0,1068.0 1113.5,1063.1 1113.9,1070.0 1114.4,1064.5 1114.9,1069.1 1115.3,1067.1 1115.8,1062.9 1116.3,1069.2 1116.7,1062.2 1117.2,1071.5 1117.6,1067.0 1118.1,1063.1 1118.6,1060.3 1119.0,1072.2 1119.5,1071.5 1120.0,1062.1 1120.4,1072.1 1120.9,1066.9 1121.4,1065.5 1121.8,1065.9 1122.3,1065.2 1122.8,1071.1 1123.2,1066.5 1123.7,1059.4 1124.2,1072.6 1124.6,1068.0 1125.1,1060.7 1125.6,1062.8 1126.0,1060.5 1126.5,1063.3 1127.0,1064.1 1127.4,1063.1 1127.9,1059.8 1128.4,1058.7 1128.8,1063.9 1129.3,1060.2 1129.8,1067.9 1130.2,1056.9 1130.7,1062.0 1131.2,1059.0 1131.6,1055.8 1132.1,1063.0 1132.5,1058.8 1133.0,1055.6 1133.5,1057.9 1133.9,1062.8 1134.4,1055.4 1134.9,1064.7 1135.3,1062.6 1135.8,1059.6 1136.3,1065.5 1136.7,1067.2 1137.2,1063.5 1137.7,1062.3 1138.1,1068.4 1138.6,1067.5 1139.1,1059.5 1139.5,1062.3 1140.0,1062.5 1140.5,1062.2 1140.9,1058.7 1141.4,1067.3 1141.9,1064.8 1142.3,1065.2 1142.8,1070.0 1143.3,1063.5 1143.7,1065.6 1144.2,1067.0 1144.7,1064.9 1145.1,1066.3 1145.6,1069.6 1146.1,1067.1 1146.5,1071.9 1147.0,1064.9 1147.4,1068.4 1147.9,1062.9 1148.4,1067.6 1148.8,1065.7 1149.3,1073.1 1149.8,1071.1 1150.2,1070.4 1150.7,1075.2 1151.2,1074.0 1151.6,1071.7 1152.1,1067.0 1152.6,1064.5 1153.0,1069.6 1153.5,1068.6 1154.0,1067.8 1154.4,1069.2 1154.9,1064.6 1155.4,1075.7 1155.8,1066.7 1156.3,1068.5 1156.8,1073.0 1157.2,1065.5 1157.7,1074.5 1158.2,1074.7 1158.6,1070.4 1159.1,1067.9 1159.6,1070.1 1160.0,1065.5 1160.5,1076.9 1161.0,1072.3 1161.4,1069.7 1161.9,1069.3 1162.4,1074.5 1162.8,1077.9 1163.3,1068.4 1163.7,1070.9 1164.2,1066.9 1164.7,1075.5 1165.1,1073.8 1165.6,1081.3 1166.1,1073.1 1166.5,1072.2 1167.0,1071.3 1167.5,1076.9 1167.9,1068.3 1168.4,1076.5 1168.9,1074.7 1169.3,1072.1 1169.8,1070.6 1170.3,1077.4 1170.7,1080.1 1171.2,1072.0 1171.7,1075.4 1172.1,1079.6 1172.6,1071.3 1173.1,1072.5 1173.5,1069.1 1174.0,1072.8 1174.5,1072.9 1174.9,1071.7 1175.4,1070.5 1175.9,1067.5 1176.3,1068.3 1176.8,1069.5 1177.3,1075.1 1177.7,1071.1 1178.2,1069.8 1178.6,1075.0 1179.1,1074.6 1179.6,1070.0 1180.0,1070.4 1180.5,1074.8 1181.0,1073.7 1181.4,1069.5 1181.9,1073.2 1182.4,1072.2 1182.8,1076.1 1183.3,1069.2 1183.8,1075.2 1184.2,1073.6 1184.7,1068.5 1185.2,1075.6 1185.6,1074.9 1186.1,1066.8 1186.6,1078.1 1187.0,1067.0 1187.5,1067.5 1188.0,1069.4 1188.4,1073.0 1188.9,1072.1 1189.4,1069.5 1189.8,1074.4 1190.3,1070.8 1190.8,1074.0 1191.2,1078.7 1191.7,1069.3 1192.2,1059.4 1192.6,1066.6 1193.1,1064.2 1193.5,1068.0 1194.0,1067.8 1194.5,1063.0 1194.9,1063.0 1195.4,1065.9 1195.9,1065.9 1196.3,1057.2 1196.8,1069.5 1197.3,1066.0 1197.7,1065.6 1198.2,1066.4 1198.7,1061.6 1199.1,1064.8 1199.6,1068.4 1200.1,1068.3 1200.5,1065.9 1201.0,1063.2 1201.5,1061.3 1201.9,1069.1 1202.4,1066.5 1202.9,1063.3 1203.3,1057.4 1203.8,1062.2 1204.3,1058.6 1204.7,1070.1 1205.2,1066.5 1205.7,1063.4 1206.1,1065.3 1206.6,1075.7 1207.1,1071.0 1207.5,1062.1 1208.0,1066.6 1208.4,1062.9 1208.9,1061.4 1209.4,1068.3 1209.8,1076.5 1210.3,1073.6 1210.8,1068.3 1211.2,1066.9 1211.7,1069.1 1212.2,1072.2 1212.6,1063.4 1213.1,1062.0 1213.6,1075.5 1214.0,1069.9 1214.5,1074.8 1215.0,1070.0 1215.4,1074.5 1215.9,1067.2 1216.4,1071.3 1216.8,1075.1 1217.3,1073.3 1217.8,1068.1 1218.2,1073.1 1218.7,1067.6 1219.2,1065.0 1219.6,1072.1 1220.1,1075.4 1220.6,1073.5 1221.0,1066.0 1221.5,1073.8 1222.0,1073.2 1222.4,1069.2 1222.9,1062.0 1223.3,1074.6 1223.8,1074.0 1224.3,1072.6 1224.7,1064.5 1225.2,1065.2 1225.7,1074.2 1226.1,1073.3 1226.6,1072.1 1227.1,1069.4 1227.5,1071.6 1228.0,1068.2 1228.5,1068.9 1228.9,1066.8 1229.4,1070.8 1229.9,1068.3 1230.3,1073.1 1230.8,1072.2 1231.3,1066.6 1231.7,1076.1 1232.2,1065.3 1232.7,1070.9 1233.1,1073.1 1233.6,1073.8 1234.1,1061.1 1234.5,1072.6 1235.0,1073.3 1235.5,1074.0 1235.9,1060.7 1236.4,1066.2 1236.9,1068.2 1237.3,1066.9 1237.8,1073.2 1238.2,1065.9 1238.7,1072.7 1239.2,1070.2 1239.6,1062.8 1240.1,1064.4 1240.6,1066.2 1241.0,1068.2 1241.5,1071.4 1242.0,1067.1 1242.4,1071.0 1242.9,1062.0 1243.4,1056.6 1243.8,1066.4 1244.3,1069.2 1244.8,1066.2 1245.2,1063.8 1245.7,1068.9 1246.2,1074.3 1246.6,1066.9 1247.1,1064.6 1247.6,1064.1 1248.0,1074.2 1248.5,1066.9 1249.0,1069.2 1249.4,1071.4 1249.9,1070.8 1250.4,1063.5 1250.8,1070.3 1251.3,1069.8 1251.8,1068.5 1252.2,1070.3 1252.7,1064.6 1253.1,1066.3 1253.6,1064.6 1254.1,1069.2 1254.5,1064.0 1255.0,1067.8 1255.5,1062.3 1255.9,1065.8 1256.4,1064.9 1256.9,1065.7 1257.3,1066.6 1257.8,1065.4 1258.3,1065.2 1258.7,1058.4 1259.2,1069.9 1259.7,1063.6 1260.1,1064.9 1260.6,1062.7 1261.1,1069.3 1261.5,1062.3 1262.0,1067.4 1262.5,1069.8 1262.9,1071.4 1263.4,1069.7 1263.9,1067.6 1264.3,1061.0 1264.8,1069.9 1265.3,1069.5 1265.7,1068.2 1266.2,1068.0 1266.7,1065.3 1267.1,1063.1 1267.6,1068.9 1268.0,1069.5 1268.5,1061.1 1269.0,1068.1 1269.4,1065.7 1269.9,1067.9 1270.4,1065.7 1270.8,1068.7 1271.3,1068.3 1271.8,1067.8 1272.2,1059.6 1272.7,1067.5 1273.2,1064.7 1273.6,1060.4 1274.1,1066.9 1274.6,1059.5 1275.0,1067.5 1275.5,1070.3 1276.0,1062.4 1276.4,1067.5 1276.9,1065.8 1277.4,1066.4 1277.8,1059.2 1278.3,1066.1 1278.8,1064.2 1279.2,1066.2 1279.7,1063.4 1280.2,1067.1 1280.6,1064.0 1281.1,1065.3 1281.6,1067.5 1282.0,1063.1 1282.5,1065.8 1282.9,1062.9 1283.4,1063.8 1283.9,1059.9 1284.3,1064.3 1284.8,1065.7 1285.3,1060.9 1285.7,1063.8 1286.2,1062.3 1286.7,1056.7 1287.1,1061.7 1287.6,1064.9 1288.1,1058.4 1288.5,1053.6 1289.0,1060.4 1289.5,1057.2 1289.9,1066.1 1290.4,1059.0 1290.9,1059.0 1291.3,1056.6 1291.8,1059.5 1292.3,1056.4 1292.7,1055.1 1293.2,1058.1 1293.7,1055.6 1294.1,1063.4 1294.6,1054.9 1295.1,1059.0 1295.5,1057.1 1296.0,1054.9 1296.5,1065.9 1296.9,1052.9 1297.4,1065.6 1297.9,1055.8 1298.3,1061.3 1298.8,1069.2 1299.2,1054.1 1299.7,1057.0 1300.2,1066.7 1300.6,1062.9 1301.1,1060.6 1301.6,1062.7 1302.0,1059.7 1302.5,1063.7 1303.0,1068.8 1303.4,1062.5 1303.9,1064.6 1304.4,1068.5 1304.8,1071.5 1305.3,1062.7 1305.8,1066.0 1306.2,1063.2 1306.7,1063.1 1307.2,1064.2 1307.6,1063.6 1308.1,1059.9 1308.6,1059.2 1309.0,1063.9 1309.5,1067.1 1310.0,1071.1 1310.4,1065.2 1310.9,1066.7 1311.4,1069.8 1311.8,1070.3 1312.3,1067.5 1312.8,1067.9 1313.2,1074.9 1313.7,1067.4 1314.1,1067.0 1314.6,1063.3 1315.1,1070.6 1315.5,1068.2 1316.0,1075.8 1316.5,1068.0 1316.9,1072.0 1317.4,1072.4 1317.9,1074.9 1318.3,1064.5 1318.8,1074.6 1319.3,1069.2 1319.7,1068.8 1320.2,1068.0 1320.7,1067.7 1321.1,1067.9 1321.6,1061.0 1322.1,1070.9 1322.5,1069.3 1323.0,1065.8 1323.5,1068.9 1323.9,1077.1 1324.4,1070.5 1324.9,1067.8 1325.3,1075.1 1325.8,1066.4 1326.3,1068.6 1326.7,1067.3 1327.2,1068.5 1327.7,1072.0 1328.1,1071.5 1328.6,1067.0 1329.0,1069.2 1329.5,1070.0 1330.0,1068.4 1330.4,1069.8 1330.9,1067.5 1331.4,1067.5 1331.8,1070.3 1332.3,1066.6 1332.8,1071.8 1333.2,1069.7 1333.7,1067.3 1334.2,1068.4 1334.6,1069.0 1335.1,1070.2 1335.6,1071.2 1336.0,1070.2 1336.5,1068.0 1337.0,1076.0 1337.4,1074.3 1337.9,1071.6 1338.4,1074.6 1338.8,1072.5 1339.3,1070.6 1339.8,1071.8 1340.2,1080.8 1340.7,1075.1 1341.2,1075.4 1341.6,1070.5 1342.1,1074.0 1342.6,1079.8 1343.0,1073.6 1343.5,1075.8 1343.9,1076.5 1344.4,1074.4 1344.9,1077.7 1345.3,1073.0 1345.8,1074.0 1346.3,1070.1 1346.7,1081.4 1347.2,1073.4 1347.7,1072.8 1348.1,1077.2 1348.6,1070.8 1349.1,1072.5 1349.5,1069.8 1350.0,1072.6 1350.5,1071.2 1350.9,1074.5 1351.4,1072.2 1351.9,1070.6 1352.3,1071.7 1352.8,1072.3 1353.3,1071.0 1353.7,1076.0 1354.2,1075.1 1354.7,1073.3 1355.1,1068.8 1355.6,1074.7 1356.1,1068.5 1356.5,1073.6 1357.0,1073.1 1357.5,1071.0 1357.9,1070.2 1358.4,1070.7 1358.8,1080.1 1359.3,1072.2 1359.8,1072.4 1360.2,1076.4 1360.7,1074.5 1361.2,1076.7 1361.6,1068.9 1362.1,1069.4 1362.6,1084.3 1363.0,1073.0 1363.5,1072.1 1364.0,1073.6 1364.4,1076.5 1364.9,1069.0 1365.4,1074.1 1365.8,1073.0 1366.3,1075.4 1366.8,1073.7 1367.2,1071.3 1367.7,1070.1 1368.2,1064.8 1368.6,1076.4 1369.1,1068.1 1369.6,1071.7 1370.0,1078.8 1370.5,1071.7 1371.0,1075.2 1371.4,1072.4 1371.9,1075.5 1372.4,1073.2 1372.8,1071.4 1373.3,1077.7 1373.7,1072.2 1374.2,1068.5 1374.7,1072.0 1375.1,1074.9 1375.6,1069.3 1376.1,1075.8 1376.5,1075.7 1377.0,1080.3 1377.5,1070.9 1377.9,1075.3 1378.4,1067.4 1378.9,1071.7 1379.3,1073.4 1379.8,1074.5 1380.3,1072.9 1380.7,1072.8 1381.2,1071.0 1381.7,1071.6 1382.1,1074.2 1382.6,1075.0 1383.1,1075.3 1383.5,1076.5 1384.0,1077.2 1384.5,1067.1 1384.9,1071.5 1385.4,1072.7 1385.9,1071.1 1386.3,1076.8 1386.8,1075.9 1387.3,1073.0 1387.7,1073.8 1388.2,1077.7 1388.6,1072.2 1389.1,1072.4 1389.6,1076.5 1390.0,1075.1 1390.5,1078.3 1391.0,1074.8 1391.4,1076.1 1391.9,1071.7 1392.4,1070.4 1392.8,1073.6 1393.3,1064.7 1393.8,1075.0 1394.2,1076.9 1394.7,1073.9 1395.2,1073.0 1395.6,1077.4 1396.1,1073.6 1396.6,1077.1 1397.0,1081.2 1397.5,1076.3 1398.0,1077.0 1398.4,1075.5 1398.9,1074.7 1399.4,1074.8 1399.8,1074.2 1400.3,1077.6 1400.8,1068.6 1401.2,1073.1 1401.7,1076.2 1402.2,1071.2 1402.6,1073.7 1403.1,1071.7 1403.5,1075.6 1404.0,1077.0 1404.5,1079.0 1404.9,1075.8 1405.4,1071.7 1405.9,1074.9 1406.3,1076.0 1406.8,1078.8 1407.3,1066.9 1407.7,1075.3 1408.2,1068.0 1408.7,1076.5 1409.1,1075.6 1409.6,1075.8 1410.1,1077.1 1410.5,1075.4 1411.0,1071.9" fill="none" stroke="#000000" stroke-width="1.45" stroke-linejoin="round"/>
<polygon points="532.8,959.7 553.5,942.7 574.2,959.7 553.5,976.7" fill="#008000"/>
<polygon points="838.2,1066.6 859.0,1049.6 879.8,1066.6 859.0,1083.6" fill="#008000"/>
<polygon points="1063.2,1070.7 1084.0,1053.7 1104.8,1070.7 1084.0,1087.7" fill="#008000"/>
<polygon points="1175.8,1071.7 1196.5,1054.7 1217.2,1071.7 1196.5,1088.7" fill="#008000"/>
<polygon points="1231.2,1059.6 1252.0,1042.6 1272.8,1059.6 1252.0,1076.6" fill="#008000"/>
<line x1="130.5" y1="114.7" x2="1411.5" y2="114.7" stroke="#7a7a7a" stroke-width="2"/>
<line x1="130.5" y1="114" x2="130.5" y2="1156" stroke="#262626" stroke-width="2"/>
<line x1="1411.5" y1="114" x2="1411.5" y2="1156" stroke="#262626" stroke-width="2"/>
<line x1="129.5" y1="1155" x2="1412.5" y2="1155" stroke="#262626" stroke-width="2"/>
<line x1="246.9" y1="1135" x2="246.9" y2="1155" stroke="#262626" stroke-width="2"/><line x1="363.3" y1="1135" x2="363.3" y2="1155" stroke="#262626" stroke-width="2"/><line x1="479.7" y1="1135" x2="479.7" y2="1155" stroke="#262626" stroke-width="2"/><line x1="596.1" y1="1135" x2="596.1" y2="1155" stroke="#262626" stroke-width="2"/><line x1="712.5" y1="1135" x2="712.5" y2="1155" stroke="#262626" stroke-width="2"/><line x1="829.0" y1="1135" x2="829.0" y2="1155" stroke="#262626" stroke-width="2"/><line x1="945.4" y1="1135" x2="945.4" y2="1155" stroke="#262626" stroke-width="2"/><line x1="1061.8" y1="1135" x2="1061.8" y2="1155" stroke="#262626" stroke-width="2"/><line x1="1178.2" y1="1135" x2="1178.2" y2="1155" stroke="#262626" stroke-width="2"/><line x1="1294.6" y1="1135" x2="1294.6" y2="1155" stroke="#262626" stroke-width="2"/><line x1="188.7" y1="1144.5" x2="188.7" y2="1155" stroke="#262626" stroke-width="2"/><line x1="305.1" y1="1144.5" x2="305.1" y2="1155" stroke="#262626" stroke-width="2"/><line x1="421.5" y1="1144.5" x2="421.5" y2="1155" stroke="#262626" stroke-width="2"/><line x1="537.9" y1="1144.5" x2="537.9" y2="1155" stroke="#262626" stroke-width="2"/><line x1="654.3" y1="1144.5" x2="654.3" y2="1155" stroke="#262626" stroke-width="2"/><line x1="770.8" y1="1144.5" x2="770.8" y2="1155" stroke="#262626" stroke-width="2"/><line x1="887.2" y1="1144.5" x2="887.2" y2="1155" stroke="#262626" stroke-width="2"/><line x1="1003.6" y1="1144.5" x2="1003.6" y2="1155" stroke="#262626" stroke-width="2"/><line x1="1120.0" y1="1144.5" x2="1120.0" y2="1155" stroke="#262626" stroke-width="2"/><line x1="1236.4" y1="1144.5" x2="1236.4" y2="1155" stroke="#262626" stroke-width="2"/><line x1="1352.8" y1="1144.5" x2="1352.8" y2="1155" stroke="#262626" stroke-width="2"/>
<text x="130.5" y="1205.2" class="tl">5</text><text x="246.9" y="1205.2" class="tl">10</text><text x="363.3" y="1205.2" class="tl">15</text><text x="479.7" y="1205.2" class="tl">20</text><text x="596.1" y="1205.2" class="tl">25</text><text x="712.5" y="1205.2" class="tl">30</text><text x="829.0" y="1205.2" class="tl">35</text><text x="945.4" y="1205.2" class="tl">40</text><text x="1061.8" y="1205.2" class="tl">45</text><text x="1178.2" y="1205.2" class="tl">50</text><text x="1294.6" y="1205.2" class="tl">55</text><text x="1411.0" y="1205.2" class="tl">60</text>
<text transform="translate(305.31,62.30) scale(0.4543,0.4270)" style="font-size:100px;font-weight:normal;font-kerning:none;">-</text>
<text transform="translate(329.49,62.30) scale(0.4578,0.4270)" style="font-size:100px;font-weight:normal;font-kerning:none;">anatase</text>
<text transform="translate(473.52,62.00) scale(0.4324,0.4270)" style="font-size:100px;font-weight:normal;font-kerning:none;">TiO</text>
<text transform="translate(540.86,92.60) scale(0.4415,0.4300)" style="font-size:100px;font-weight:normal;font-kerning:none;">2</text>
<text transform="translate(578.14,62.20) scale(0.4320,0.4270)" style="font-size:100px;font-weight:normal;font-kerning:none;">ICDD</text>
<text transform="translate(693.05,62.20) scale(0.4079,0.4270)" style="font-size:100px;font-weight:normal;font-kerning:none;">083-2243</text>
<text transform="translate(419.20,386.15) rotate(-90) scale(0.4503,0.4350)" style="font-size:100px;font-weight:normal;font-kerning:none;">CNH</text>
<text transform="translate(419.20,281.13) rotate(-90) scale(0.3931,0.4350)" style="font-size:100px;font-weight:normal;font-kerning:none;">(002)</text>
<text transform="translate(1331.36,530.00) scale(0.4478,0.4290)" style="font-size:100px;font-weight:normal;font-kerning:none;">3</text>
<text transform="translate(1336.85,760.80) scale(0.4889,0.4230)" style="font-size:100px;font-weight:normal;font-kerning:none;">2</text>
<text transform="translate(1342.26,1036.40) scale(0.4261,0.4340)" style="font-size:100px;font-weight:normal;font-kerning:none;">1</text>
<text transform="translate(69.40,858.98) rotate(-90) scale(0.6482,0.6200)" style="font-size:100px;font-weight:bold;font-kerning:none;">Intensity</text>
<text transform="translate(69.40,598.34) rotate(-90) scale(0.6002,0.6200)" style="font-size:100px;font-weight:bold;font-kerning:none;">(a.u.)</text>
<text transform="translate(688.97,1314.50) scale(0.6505,0.6000)" style="font-size:100px;font-weight:bold;font-kerning:none;">2</text>
<text transform="translate(718.39,1314.40) scale(0.7699,0.6630)" style="font-size:100px;font-weight:normal;font-kerning:none;">θ</text>
<text transform="translate(770.60,1309.60) scale(0.5451,0.5560)" style="font-size:100px;font-weight:normal;font-kerning:none;">(</text>
<text transform="translate(788.69,1312.70) scale(0.6926,0.6270)" style="font-size:100px;font-weight:normal;font-kerning:none;">°</text>
<text transform="translate(815.12,1309.60) scale(0.5840,0.5560)" style="font-size:100px;font-weight:normal;font-kerning:none;">)</text>
</svg>
</body></html>
